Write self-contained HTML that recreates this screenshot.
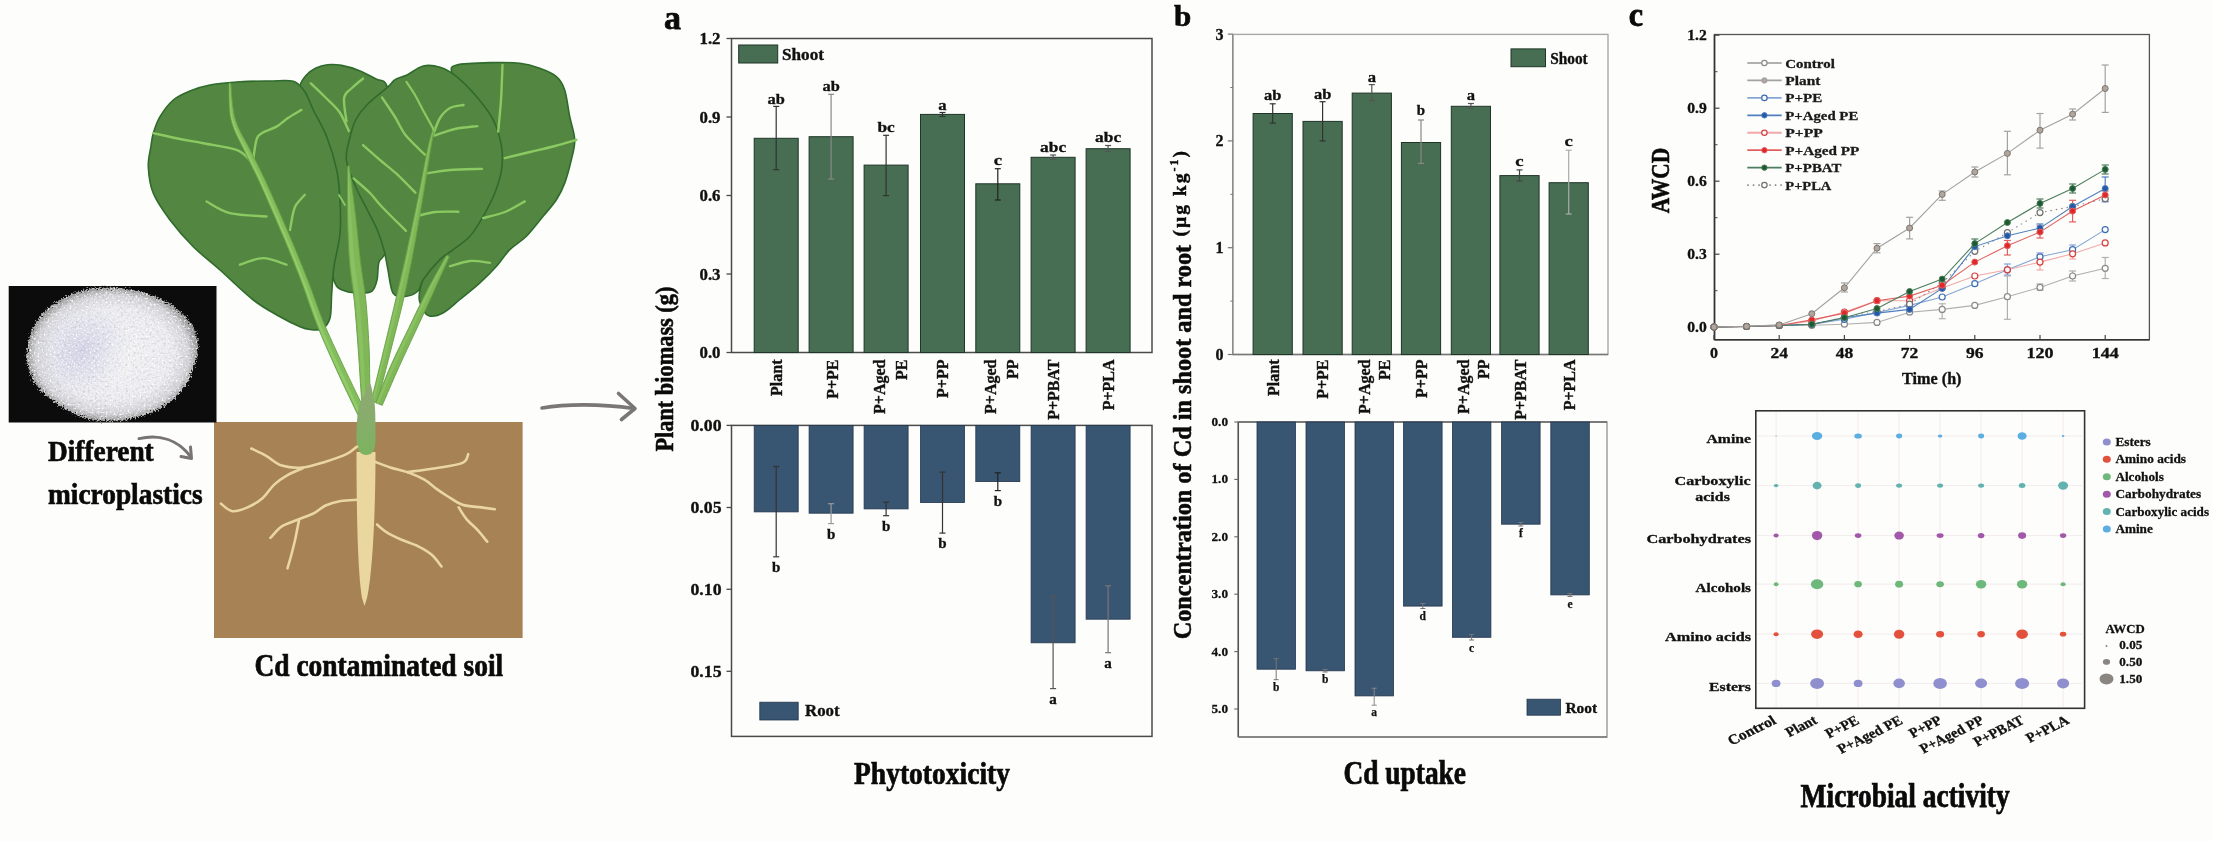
<!DOCTYPE html>
<html><head><meta charset="utf-8"><title>Graphical abstract</title>
<style>
html,body{margin:0;padding:0;background:#fdfdfb;}
body{width:2213px;height:841px;overflow:hidden;font-family:"Liberation Serif",serif;}
svg{display:block;filter:blur(0.45px);}
text{font-family:"Liberation Serif",serif;}
</style></head><body>
<svg width="2213" height="841" viewBox="0 0 2213 841">
<defs>
<linearGradient id="bulbg" x1="0" y1="0" x2="0" y2="1">
<stop offset="0" stop-color="#8ea872"/>
<stop offset="0.5" stop-color="#87ad6c"/>
<stop offset="1" stop-color="#7cb35e"/>
</linearGradient>
<radialGradient id="blobg" cx="0.5" cy="0.5" r="0.5">
<stop offset="0" stop-color="#f4f4f6"/>
<stop offset="0.7" stop-color="#ececf0"/>
<stop offset="0.9" stop-color="#d4d4d8"/>
<stop offset="1" stop-color="#9a9a9a"/>
</radialGradient>
<radialGradient id="lav" cx="0.5" cy="0.5" r="0.5">
<stop offset="0" stop-color="#c0c0e0" stop-opacity="0.6"/>
<stop offset="1" stop-color="#c8c8e4" stop-opacity="0"/>
</radialGradient>
<filter id="rough" x="-10%" y="-10%" width="120%" height="120%">
<feTurbulence type="fractalNoise" baseFrequency="0.6" numOctaves="2" seed="3" result="n"/>
<feDisplacementMap in="SourceGraphic" in2="n" scale="8" xChannelSelector="R" yChannelSelector="G"/>
</filter>
<filter id="darkspeck" x="0" y="0" width="100%" height="100%">
<feTurbulence type="fractalNoise" baseFrequency="0.42" numOctaves="2" seed="11" result="n"/>
<feColorMatrix in="n" type="matrix" values="0 0 0 0 0.35  0 0 0 0 0.35  0 0 0 0 0.38  -3.4 0 0 0 1.7" result="a"/>
<feComposite in="a" in2="SourceAlpha" operator="in"/>
</filter>
<filter id="whitespeck" x="0" y="0" width="100%" height="100%">
<feTurbulence type="fractalNoise" baseFrequency="0.5" numOctaves="1" seed="21" result="n"/>
<feColorMatrix in="n" type="matrix" values="0 0 0 0 1  0 0 0 0 1  0 0 0 0 1  4 0 0 0 -2.2" result="a"/>
<feComposite in="a" in2="SourceAlpha" operator="in"/>
</filter>
<radialGradient id="edgefade" cx="0.5" cy="0.5" r="0.5">
<stop offset="0" stop-color="#000" stop-opacity="0.25"/>
<stop offset="0.75" stop-color="#000" stop-opacity="0.45"/>
<stop offset="1" stop-color="#000" stop-opacity="0.9"/>
</radialGradient>
</defs>
<rect x="0" y="0" width="2213" height="841" fill="#fdfdfb"/>

<path d="M451.6,73.3 C451.37,68.3 449.67,66.78 456.6,65 C463.53,63.22 482.67,62.88 493.2,62.6 C503.73,62.32 512.05,62.35 519.8,63.3 C527.55,64.25 533.6,66.08 539.7,68.3 C545.8,70.52 552.23,73 556.4,76.6 C560.57,80.2 562.48,83.25 564.7,89.9 C566.92,96.55 568.03,108.18 569.7,116.5 C571.37,124.82 574.43,132.58 574.7,139.8 C574.97,147.02 572.97,152.58 571.3,159.8 C569.63,167.02 567.18,176.45 564.7,183.1 C562.22,189.75 560,194.17 556.4,199.7 C552.8,205.23 548.1,210.2 543.1,216.3 C538.1,222.4 531.95,230.75 526.4,236.3 C520.85,241.85 514.78,244.62 509.8,249.6 C504.82,254.58 501.48,260.65 496.5,266.2 C491.52,271.75 486,277.35 479.9,282.9 C473.8,288.45 466,294.52 459.9,299.5 C453.8,304.48 448.28,310.03 443.3,312.8 C438.32,315.57 433.33,316.65 430,316.1 C426.67,315.55 424.97,313.93 423.3,309.5 C421.63,305.07 417.22,302.75 420,289.5 C422.78,276.25 433,253.25 440,230 C447,206.75 459,172.5 462,150 C465,127.5 459.73,107.78 458,95 C456.27,82.22 451.83,78.3 451.6,73.3Z" fill="#538640" stroke="#2f6b2c" stroke-width="1.6" stroke-linejoin="round"/>
<path d="M300,86.2 C300.33,82.45 303.42,78.48 306,75.5 C308.58,72.52 311.95,70.08 315.5,68.3 C319.05,66.52 322.95,65.28 327.3,64.8 C331.65,64.32 336.23,64.42 341.6,65.4 C346.97,66.38 353.75,68.43 359.5,70.7 C365.25,72.97 371.55,76.52 376.1,79 C380.65,81.48 383.98,78.77 386.8,85.6 C389.62,92.43 392.13,100.93 393,120 C393.87,139.07 393.17,178.33 392,200 C390.83,221.67 388.17,239.67 386,250 C383.83,260.33 380.5,257 379,262 C377.5,267 378.17,275.17 377,280 C375.83,284.83 374.83,288.83 372,291 C369.17,293.17 364.5,293 360,293 C355.5,293 349,292.33 345,291 C341,289.67 338.33,289.33 336,285 C333.67,280.67 332.5,279.17 331,265 C329.5,250.83 329.17,222.5 327,200 C324.83,177.5 321.83,147 318,130 C314.17,113 307,105.3 304,98 C301,90.7 299.67,89.95 300,86.2Z" fill="#538640" stroke="#2f6b2c" stroke-width="1.6" stroke-linejoin="round"/>
<path d="M160,116.7 C163.33,111.15 168.3,104.28 173.3,100 C178.3,95.72 183.9,93.5 190,91 C196.1,88.5 201.57,86.55 209.9,85 C218.23,83.45 229.98,82.37 240,81.7 C250.02,81.03 261.12,81.07 270,81 C278.88,80.93 287.47,79.47 293.3,81.3 C299.13,83.13 301.67,87.22 305,92 C308.33,96.78 309.68,102.55 313.3,110 C316.92,117.45 322.8,126.7 326.7,136.7 C330.6,146.7 334.48,159.45 336.7,170 C338.92,180.55 339.45,189.45 340,200 C340.55,210.55 341,222.18 340,233.3 C339,244.42 335.38,256.7 334,266.7 C332.62,276.7 332.37,284.75 331.7,293.3 C331.03,301.85 331.62,312.05 330,318 C328.38,323.95 325.33,327.08 322,329 C318.67,330.92 313.67,329.88 310,329.5 C306.33,329.12 305,328.83 300,326.7 C295,324.57 287.78,321.15 280,316.7 C272.22,312.25 263.3,307.78 253.3,300 C243.3,292.22 230,278.88 220,270 C210,261.12 201.63,255.03 193.3,246.7 C184.97,238.37 176.67,228.9 170,220 C163.33,211.1 156.92,202.18 153.3,193.3 C149.68,184.42 148.68,174.58 148.3,166.7 C147.92,158.82 150.17,151.57 151,146 C151.83,140.43 151.8,138.18 153.3,133.3 C154.8,128.42 156.67,122.25 160,116.7Z" fill="#538640" stroke="#2f6b2c" stroke-width="1.6" stroke-linejoin="round"/>
<path d="M388,86.8 C392.75,82.53 391.93,81.57 395.1,79.6 C398.27,77.63 402.3,77.27 407,75 C411.7,72.73 417.8,67.28 423.3,66 C428.8,64.72 434.45,65.53 440,67.3 C445.55,69.07 450.52,71.72 456.6,76.6 C462.68,81.48 470.4,89.38 476.5,96.6 C482.6,103.82 489.03,111.58 493.2,119.9 C497.37,128.22 500.12,138.18 501.5,146.5 C502.88,154.82 502.62,162.05 501.5,169.8 C500.38,177.55 497.85,185.25 494.8,193 C491.75,200.75 487.35,209.08 483.2,216.3 C479.05,223.52 474.9,230.75 469.9,236.3 C464.9,241.85 458.2,245.72 453.2,249.6 C448.2,253.48 444.88,254.62 439.9,259.6 C434.92,264.58 426.95,274.27 423.3,279.5 C419.65,284.73 421.05,288.17 418,291 C414.95,293.83 409.17,296.17 405,296.5 C400.83,296.83 395.83,297.42 393,293 C390.17,288.58 389.5,277.17 388,270 C386.5,262.83 385.83,256.78 384,250 C382.17,243.22 379.75,235.92 377,229.3 C374.25,222.68 371.07,217.43 367.5,210.3 C363.93,203.17 359.12,194.88 355.6,186.5 C352.08,178.12 347.33,168.2 346.4,160 C345.47,151.8 348.42,144.05 350,137.3 C351.58,130.55 353.13,124.85 355.9,119.5 C358.67,114.15 361.25,110.65 366.6,105.2 C371.95,99.75 383.25,91.07 388,86.8Z" fill="#538640" stroke="#2f6b2c" stroke-width="1.6" stroke-linejoin="round"/>
<path d="M502.5,65 C502.25,70.83 501.72,88.92 501,100 C500.28,111.08 498.67,126.25 498.2,131.5" fill="none" stroke="#8bc962" stroke-width="2.4" stroke-linecap="round" stroke-linejoin="round"/>
<path d="M504.8,158.1 C509,157.08 521.63,154.02 530,152 C538.37,149.98 547.28,148.03 555,146 C562.72,143.97 572.75,140.83 576.3,139.8" fill="none" stroke="#8bc962" stroke-width="2.4" stroke-linecap="round" stroke-linejoin="round"/>
<path d="M483.2,218 C486.83,217 498.07,214.77 505,212 C511.93,209.23 521.5,203.17 524.8,201.4" fill="none" stroke="#8bc962" stroke-width="2.4" stroke-linecap="round" stroke-linejoin="round"/>
<path d="M450,266.2 C453.33,265.33 463.33,261.55 470,261 C476.67,260.45 486.67,262.58 490,262.9" fill="none" stroke="#8bc962" stroke-width="2.4" stroke-linecap="round" stroke-linejoin="round"/>
<path d="M310.8,83.3 C313.17,85.58 320.25,92.25 325,97 C329.75,101.75 335.33,106.15 339.3,111.8 C343.27,117.45 347.22,127.72 348.8,130.9" fill="none" stroke="#8bc962" stroke-width="2.4" stroke-linecap="round" stroke-linejoin="round"/>
<path d="M363.1,78.5 C361.25,80.08 355.17,84.82 352,88 C348.83,91.18 345.02,92.03 344.1,97.6 C343.18,103.17 346.1,117.43 346.5,121.4" fill="none" stroke="#8bc962" stroke-width="2.4" stroke-linecap="round" stroke-linejoin="round"/>
<path d="M339,195 C340,196.67 344,203.33 345,205" fill="none" stroke="#8bc962" stroke-width="1.8" stroke-linecap="round" stroke-linejoin="round"/>
<path d="M153.3,133.2 C157.75,134.17 171.68,137.33 180,139 C188.32,140.67 193.78,141.38 203.2,143.2 C212.62,145.02 228.73,147.12 236.5,149.9 C244.27,152.68 247.58,158.23 249.8,159.9" fill="none" stroke="#8bc962" stroke-width="2.4" stroke-linecap="round" stroke-linejoin="round"/>
<path d="M301.4,109.9 C299.17,111.25 292.15,115.22 288,118 C283.85,120.78 280.83,124.1 276.5,126.6 C272.17,129.1 265.33,130.78 262,133 C258.67,135.22 257.97,135.42 256.5,139.9 C255.03,144.38 253.75,156.57 253.2,159.9" fill="none" stroke="#8bc962" stroke-width="2.4" stroke-linecap="round" stroke-linejoin="round"/>
<path d="M206.6,201.5 C210.48,203.43 219.92,210.6 229.9,213.1 C239.88,215.6 260.4,215.93 266.5,216.5" fill="none" stroke="#8bc962" stroke-width="2.4" stroke-linecap="round" stroke-linejoin="round"/>
<path d="M304.8,194.8 C303.33,196.5 297.95,201.95 296,205 C294.05,208.05 294.1,208.93 293.1,213.1 C292.1,217.27 290.52,227.18 290,230" fill="none" stroke="#8bc962" stroke-width="2.4" stroke-linecap="round" stroke-linejoin="round"/>
<path d="M239.9,264.7 C243.78,263.6 255.43,258.1 263.2,258.1 C270.97,258.1 282.62,263.6 286.5,264.7" fill="none" stroke="#8bc962" stroke-width="2.4" stroke-linecap="round" stroke-linejoin="round"/>
<path d="M382.1,97.6 C384.25,100.83 391.03,110.67 395,117 C398.97,123.33 400.9,129.32 405.9,135.6 C410.9,141.88 421.82,151.52 425,154.7" fill="none" stroke="#8bc962" stroke-width="2.4" stroke-linecap="round" stroke-linejoin="round"/>
<path d="M363.1,145.1 C365.92,147.58 374.45,155.23 380,160 C385.55,164.77 390.5,168.25 396.4,173.7 C402.3,179.15 412.23,189.53 415.4,192.7" fill="none" stroke="#8bc962" stroke-width="2.4" stroke-linecap="round" stroke-linejoin="round"/>
<path d="M353.6,178.4 C356.33,180.83 365.25,188.23 370,193 C374.75,197.77 376.12,200.7 382.1,207 C388.08,213.3 401.93,226.83 405.9,230.8" fill="none" stroke="#8bc962" stroke-width="2.4" stroke-linecap="round" stroke-linejoin="round"/>
<path d="M433,135 C434.17,132.17 437.17,122.5 440,118 C442.83,113.5 446.08,110.17 450,108 C453.92,105.83 461.25,105.5 463.5,105" fill="none" stroke="#8bc962" stroke-width="2.4" stroke-linecap="round" stroke-linejoin="round"/>
<path d="M434.5,135.6 C437.92,134.5 447.87,130.58 455,129 C462.13,127.42 473.58,126.58 477.3,126.1" fill="none" stroke="#8bc962" stroke-width="2.4" stroke-linecap="round" stroke-linejoin="round"/>
<path d="M425,173.7 C429.17,173.08 440.5,170.8 450,170 C459.5,169.2 476.67,169.08 482,168.9" fill="none" stroke="#8bc962" stroke-width="2.4" stroke-linecap="round" stroke-linejoin="round"/>
<path d="M415.4,216.5 C418.67,215.75 427.85,212.8 435,212 C442.15,211.2 454.42,211.75 458.3,211.7" fill="none" stroke="#8bc962" stroke-width="2.4" stroke-linecap="round" stroke-linejoin="round"/>
<path d="M229,83.38 C229.36,89.56 228.42,108.8 231.17,120.44 C233.91,132.07 240.59,142.53 245.47,153.2 C250.35,163.87 254.11,170.38 260.47,184.45 C266.83,198.51 276.73,221.15 283.65,237.61 C290.56,254.06 296.45,268.72 301.97,283.17 C307.49,297.62 311.01,309.91 316.76,324.32 C322.51,338.73 329.54,354.39 336.46,369.63 C343.38,384.88 354.66,408.08 358.3,415.77 L365.7,412.23 C362.01,404.59 350.62,381.46 343.54,366.37 C336.46,351.27 329.16,335.94 323.24,321.68 C317.32,307.42 313.68,295.24 308.03,280.83 C302.38,266.41 296.37,251.67 289.35,235.19 C282.34,218.71 272.4,196.02 265.93,181.95 C259.46,167.89 255.65,161.23 250.53,150.8 C245.41,140.37 238.52,130.63 235.23,119.36 C231.94,108.1 231.54,89.24 230.8,83.22Z" fill="#84be5c" stroke="#64a044" stroke-width="0.9" stroke-linejoin="round"/>
<path d="M229.19,83.32 C229.59,89.45 228.78,108.56 231.56,120.08 C234.34,131.59 240.99,141.82 245.88,152.42 C250.77,163.01 254.55,169.57 260.92,183.63 C267.3,197.7 277.21,220.36 284.14,236.82 C291.07,253.28 296.98,267.97 302.51,282.41 C308.04,296.85 311.57,309.1 317.32,323.46 C323.08,337.82 330.11,353.38 337.04,368.57 C343.97,383.76 355.26,406.94 358.9,414.62 L361.49,413.38 C357.83,405.72 346.51,382.57 339.52,367.43 C332.54,352.29 325.41,336.85 319.6,322.54 C313.78,308.23 310.21,296.02 304.63,281.59 C299.05,267.16 293.1,252.45 286.14,235.98 C279.17,219.51 269.25,196.83 262.84,182.77 C256.42,168.7 252.63,162.09 247.66,151.58 C242.68,141.08 235.96,131.11 232.99,119.72 C230.02,108.34 230.35,89.35 229.82,83.28Z" fill="#98d070" opacity="0.7"/>
<path d="M347.75,166.05 C347.71,174.25 347.21,199.19 347.51,215.27 C347.81,231.35 348.4,248.33 349.53,262.55 C350.66,276.77 352.87,286.61 354.28,300.58 C355.69,314.54 357.01,333.07 358.01,346.34 C359.01,359.62 359.63,370.9 360.25,380.21 C360.88,389.52 361.5,398.53 361.75,402.19 L370.25,401.81 C370.16,398.14 369.95,389.15 369.75,379.79 C369.54,370.43 369.66,359.05 368.99,345.66 C368.32,332.26 367.14,313.46 365.72,299.42 C364.3,285.39 362.18,275.57 360.47,261.45 C358.77,247.34 357.36,230.65 355.49,214.73 C353.62,198.81 350.29,174.08 349.25,165.95Z" fill="#80b858" stroke="#64a044" stroke-width="0.9" stroke-linejoin="round"/>
<path d="M347.91,166.01 C347.98,174.18 347.88,199.04 348.34,215.06 C348.8,231.09 349.48,247.98 350.66,262.17 C351.85,276.36 354.05,286.21 355.47,300.2 C356.88,314.2 358.2,332.82 359.16,346.13 C360.12,359.45 360.67,370.77 361.25,380.09 C361.83,389.42 362.41,398.42 362.64,402.08 L365.62,401.92 C365.44,398.25 365.01,389.25 364.57,379.91 C364.13,370.57 363.85,359.22 363,345.87 C362.15,332.52 360.89,313.8 359.47,299.8 C358.06,285.79 355.89,275.97 354.5,261.83 C353.11,247.68 352.15,230.91 351.14,214.94 C350.13,198.96 348.88,174.15 348.43,165.99Z" fill="#8ec466" opacity="0.7"/>
<path d="M433.27,127.83 C432.31,131.48 429.94,138.59 427.53,149.71 C425.11,160.84 422.24,177.65 418.79,194.59 C415.34,211.53 410.56,234.26 406.82,251.35 C403.08,268.45 399.88,282.02 396.35,297.16 C392.81,312.29 389.02,327.99 385.6,342.16 C382.19,356.33 378.27,372.35 375.85,382.2 C373.43,392.05 371.89,398.06 371.1,401.24 L376.9,402.76 C377.78,399.6 379.57,393.62 382.15,383.8 C384.73,373.98 388.81,358 392.4,343.84 C395.98,329.68 400.19,314.04 403.65,298.84 C407.12,283.64 409.92,269.89 413.18,252.65 C416.44,235.41 420.33,212.47 423.21,195.41 C426.09,178.35 428.55,161.49 430.47,150.29 C432.39,139.08 434.02,131.85 434.73,128.17Z" fill="#80b858" stroke="#64a044" stroke-width="0.9" stroke-linejoin="round"/>
<path d="M433.41,127.94 C432.48,131.6 430.19,138.74 427.83,149.9 C425.46,161.05 422.63,177.87 419.24,194.85 C415.84,211.83 411.15,234.62 407.46,251.77 C403.76,268.91 400.6,282.55 397.07,297.7 C393.54,312.86 389.7,328.54 386.27,342.71 C382.84,356.88 378.9,372.89 376.47,382.72 C374.03,392.56 372.46,398.57 371.66,401.74 L373.7,402.26 C374.53,399.1 376.18,393.1 378.67,383.28 C381.17,373.45 385.16,357.45 388.65,343.29 C392.14,329.13 396.12,313.47 399.63,298.3 C403.13,283.12 406.16,269.43 409.68,252.23 C413.21,235.04 417.59,212.17 420.78,195.15 C423.98,178.13 426.66,161.29 428.85,150.1 C431.04,138.92 433.08,131.74 433.93,128.06Z" fill="#8ec466" opacity="0.7"/>
<path d="M434,130 C432.33,127 427.17,117.83 424,112 C420.83,106.17 417.92,100 415,95 C412.08,90 407.92,84.17 406.5,82" fill="none" stroke="#8bc962" stroke-width="2.2" stroke-linecap="round" stroke-linejoin="round"/>
<path d="M446.66,255.33 C443.39,261.2 433.42,278.4 427.08,290.58 C420.74,302.76 414.57,316.1 408.61,328.4 C402.65,340.7 396.82,352 391.35,364.37 C385.87,376.75 378.37,396.26 375.77,402.64 L382.23,405.36 C384.96,399.07 393.13,379.92 398.65,367.63 C404.18,355.34 409.68,343.97 415.39,331.6 C421.1,319.24 427.26,305.91 432.92,293.42 C438.58,280.93 446.61,262.8 449.34,256.67Z" fill="#80b858" stroke="#64a044" stroke-width="0.9" stroke-linejoin="round"/>
<path d="M446.87,255.76 C443.65,261.71 433.84,279.21 427.55,291.49 C421.27,303.77 415.1,317.11 409.17,329.43 C403.23,341.76 397.43,353.08 391.96,365.43 C386.49,377.78 378.93,397.18 376.33,403.53 L378.59,404.47 C381.25,398.15 389.03,378.89 394.52,366.57 C400.01,354.25 405.69,342.91 411.53,330.57 C417.38,318.22 423.54,304.9 429.59,292.51 C435.63,280.12 444.77,262.29 447.81,256.24Z" fill="#8ec466" opacity="0.7"/>
<rect x="214" y="422" width="308.6" height="216" fill="#a68254" stroke="none" stroke-width="0" />
<path d="M356.5,452 C356.5,520 358,575 362,598 L364.5,606 L367,598 C372,575 375.5,520 375.5,452 Z" fill="#e9d79f"/>
<path d="M368.5,384 C366,392 362,398 359.5,405 C357,412 356.5,428 356.5,440 C357,452 362,455 366,455 C371,455 375.5,452 375.5,440 C375.5,425 375.5,410 374.5,403 C373,395 372,388 370.5,384 Z" fill="url(#bulbg)"/>
<path d="M357,446.6 C355.23,447.87 351.65,451.67 346.4,454.2 C341.15,456.73 332.78,459.58 325.5,461.8 C318.22,464.02 309.98,466.87 302.7,467.5 C295.42,468.13 287.82,467.5 281.8,465.6 C275.78,463.7 271.68,458.95 266.6,456.1 C261.52,453.25 253.85,449.77 251.3,448.5" fill="none" stroke="#ead6a0" stroke-width="2.6" stroke-linecap="round" stroke-linejoin="round"/>
<path d="M302.7,468.2 C300.17,469.35 292.25,472.37 287.5,475.1 C282.75,477.83 278.32,480.8 274.2,484.6 C270.08,488.4 267.25,494.1 262.8,497.9 C258.35,501.7 252.58,505.18 247.5,507.4 C242.42,509.62 236.73,511.83 232.3,511.2 C227.87,510.57 222.8,504.87 220.9,503.6" fill="none" stroke="#ead6a0" stroke-width="2.6" stroke-linecap="round" stroke-linejoin="round"/>
<path d="M357,499.8 C354.28,500 345.95,500.05 340.7,501 C335.45,501.95 329.93,503.48 325.5,505.5 C321.07,507.52 318.85,510.68 314.1,513.1 C309.35,515.52 302.38,517.78 297,520 C291.62,522.22 286.23,523.42 281.8,526.4 C277.37,529.38 272.3,535.98 270.4,537.9" fill="none" stroke="#ead6a0" stroke-width="2.6" stroke-linecap="round" stroke-linejoin="round"/>
<path d="M298.9,520.7 C298.27,523.88 296.37,534.08 295.1,539.8 C293.83,545.52 292.57,550.25 291.3,555 C290.03,559.75 288.13,566.08 287.5,568.3" fill="none" stroke="#ead6a0" stroke-width="2.6" stroke-linecap="round" stroke-linejoin="round"/>
<path d="M375,461.8 C377.53,462.75 384.82,465.78 390.2,467.5 C395.58,469.22 401.6,470.07 407.3,472.1 C413,474.13 419.65,476.98 424.4,479.7 C429.15,482.42 432,485.68 435.8,488.4 C439.6,491.12 442.75,493.27 447.2,496 C451.65,498.73 456.78,502.9 462.5,504.8 C468.22,506.7 476.12,506.65 481.5,507.4 C486.88,508.15 492.58,508.98 494.8,509.3" fill="none" stroke="#ead6a0" stroke-width="2.6" stroke-linecap="round" stroke-linejoin="round"/>
<path d="M407.3,472.1 C412.05,471.45 426.6,469.73 435.8,468.2 C445,466.67 457.1,465.23 462.5,462.9 C467.9,460.57 467.25,455.65 468.2,454.2" fill="none" stroke="#ead6a0" stroke-width="2.6" stroke-linecap="round" stroke-linejoin="round"/>
<path d="M458.7,507.4 C459.97,509.3 463.13,515 466.3,518.8 C469.47,522.6 474.22,526.38 477.7,530.2 C481.18,534.02 485.62,539.78 487.2,541.7" fill="none" stroke="#ead6a0" stroke-width="2.6" stroke-linecap="round" stroke-linejoin="round"/>
<path d="M377,524.5 C378.57,525.77 382.3,529.55 386.4,532.1 C390.5,534.65 396.22,537.38 401.6,539.8 C406.98,542.22 413.63,544.07 418.7,546.6 C423.77,549.13 428.2,551.7 432,555 C435.8,558.3 439.92,564.5 441.5,566.4" fill="none" stroke="#ead6a0" stroke-width="2.6" stroke-linecap="round" stroke-linejoin="round"/>
<rect x="8.7" y="286" width="207.8" height="136.5" fill="#0c0c0c" stroke="none" stroke-width="0" />
<g filter="url(#rough)"><path d="M97.8,288 C120,286 148,292 165.6,301.4 C182,310 197,326 197.7,342 C198,355 196,362 194.1,365.6 C188,385 178,398 165.6,404.9 C148,416 125,421 104.9,421 C85,420 70,413 58.5,404.9 C45,395 33,385 30,372.8 C26,362 26,352 28.2,342.5 C31,330 36,320 44.3,312.1 C52,304 60,299 67.5,296 C78,291 88,288.5 97.8,288 Z" fill="url(#blobg)"/><ellipse cx="82" cy="350" rx="52" ry="44" fill="url(#lav)" transform="rotate(-30 82 350)"/></g>
<path d="M97.8,288 C120,286 148,292 165.6,301.4 C182,310 197,326 197.7,342 C198,355 196,362 194.1,365.6 C188,385 178,398 165.6,404.9 C148,416 125,421 104.9,421 C85,420 70,413 58.5,404.9 C45,395 33,385 30,372.8 C26,362 26,352 28.2,342.5 C31,330 36,320 44.3,312.1 C52,304 60,299 67.5,296 C78,291 88,288.5 97.8,288 Z" fill="#000" opacity="0.3" filter="url(#darkspeck)"/>
<path d="M97.8,288 C120,286 148,292 165.6,301.4 C182,310 197,326 197.7,342 C198,355 196,362 194.1,365.6 C188,385 178,398 165.6,404.9 C148,416 125,421 104.9,421 C85,420 70,413 58.5,404.9 C45,395 33,385 30,372.8 C26,362 26,352 28.2,342.5 C31,330 36,320 44.3,312.1 C52,304 60,299 67.5,296 C78,291 88,288.5 97.8,288 Z" fill="#fff" filter="url(#whitespeck)"/>
<text transform="translate(48,460.8)" font-size="30" text-anchor="start" fill="#0a0a0a" font-weight="bold" stroke="#0a0a0a" stroke-width="0.66" textLength="105.7" lengthAdjust="spacingAndGlyphs" >Different</text>
<text transform="translate(48,503.5)" font-size="30" text-anchor="start" fill="#0a0a0a" font-weight="bold" stroke="#0a0a0a" stroke-width="0.66" textLength="154.6" lengthAdjust="spacingAndGlyphs" >microplastics</text>
<text transform="translate(254.4,675.5)" font-size="32" text-anchor="start" fill="#0a0a0a" font-weight="bold" stroke="#0a0a0a" stroke-width="0.7" textLength="248.8" lengthAdjust="spacingAndGlyphs" >Cd contaminated soil</text>
<path d="M139,438.6 C160,434 178,440 190,456" fill="none" stroke="#777472" stroke-width="3" stroke-linecap="round"/>
<path d="M181,456.5 L191.5,458.5 L190.5,447" fill="none" stroke="#777472" stroke-width="3" stroke-linecap="round" stroke-linejoin="round"/>
<path d="M542,408 C565,404 600,403.5 634,408.5" fill="none" stroke="#7a7674" stroke-width="3.6" stroke-linecap="round"/>
<path d="M618.5,393.5 L635,408.5 L621.5,419.5" fill="none" stroke="#7a7674" stroke-width="3.6" stroke-linecap="round" stroke-linejoin="round"/>
<text transform="translate(664,29)" font-size="34" text-anchor="start" fill="#0a0a0a" font-weight="bold" stroke="#0a0a0a" stroke-width="0.75" >a</text>
<rect x="731.5" y="38.5" width="420.5" height="314" fill="none" stroke="#4a4a4a" stroke-width="1.5"/>
<line x1="726.5" y1="352.5" x2="731.5" y2="352.5" stroke="#4a4a4a" stroke-width="1.3" />
<text transform="translate(720.5,358)" font-size="16" text-anchor="end" fill="#111" font-weight="bold" stroke="#111" stroke-width="0.35" textLength="21" lengthAdjust="spacingAndGlyphs" >0.0</text>
<line x1="726.5" y1="274" x2="731.5" y2="274" stroke="#4a4a4a" stroke-width="1.3" />
<text transform="translate(720.5,279.5)" font-size="16" text-anchor="end" fill="#111" font-weight="bold" stroke="#111" stroke-width="0.35" textLength="21" lengthAdjust="spacingAndGlyphs" >0.3</text>
<line x1="726.5" y1="195.5" x2="731.5" y2="195.5" stroke="#4a4a4a" stroke-width="1.3" />
<text transform="translate(720.5,201)" font-size="16" text-anchor="end" fill="#111" font-weight="bold" stroke="#111" stroke-width="0.35" textLength="21" lengthAdjust="spacingAndGlyphs" >0.6</text>
<line x1="726.5" y1="117" x2="731.5" y2="117" stroke="#4a4a4a" stroke-width="1.3" />
<text transform="translate(720.5,122.5)" font-size="16" text-anchor="end" fill="#111" font-weight="bold" stroke="#111" stroke-width="0.35" textLength="21" lengthAdjust="spacingAndGlyphs" >0.9</text>
<line x1="726.5" y1="38.5" x2="731.5" y2="38.5" stroke="#4a4a4a" stroke-width="1.3" />
<text transform="translate(720.5,44)" font-size="16" text-anchor="end" fill="#111" font-weight="bold" stroke="#111" stroke-width="0.35" textLength="21" lengthAdjust="spacingAndGlyphs" >1.2</text>
<rect x="754.2" y="138.3" width="44" height="214.2" fill="#476e53" stroke="#1e3527" stroke-width="1" />
<line x1="776.2" y1="106.4" x2="776.2" y2="169.7" stroke="#333" stroke-width="1.2" />
<line x1="773.2" y1="106.4" x2="779.2" y2="106.4" stroke="#333" stroke-width="1.2" />
<line x1="773.2" y1="169.7" x2="779.2" y2="169.7" stroke="#333" stroke-width="1.2" />
<text transform="translate(776.2,103.7)" font-size="15" text-anchor="middle" fill="#111" font-weight="bold" stroke="#111" stroke-width="0.33" textLength="17.3" lengthAdjust="spacingAndGlyphs" >ab</text>
<rect x="809.1" y="136.7" width="44" height="215.8" fill="#476e53" stroke="#1e3527" stroke-width="1" />
<line x1="831.1" y1="94.3" x2="831.1" y2="179" stroke="#888" stroke-width="1.2" />
<line x1="828.1" y1="94.3" x2="834.1" y2="94.3" stroke="#888" stroke-width="1.2" />
<line x1="828.1" y1="179" x2="834.1" y2="179" stroke="#888" stroke-width="1.2" />
<text transform="translate(831.1,91.3)" font-size="15" text-anchor="middle" fill="#111" font-weight="bold" stroke="#111" stroke-width="0.33" textLength="17.3" lengthAdjust="spacingAndGlyphs" >ab</text>
<rect x="864.1" y="165.1" width="44" height="187.4" fill="#476e53" stroke="#1e3527" stroke-width="1" />
<line x1="886.1" y1="135.3" x2="886.1" y2="195.6" stroke="#333" stroke-width="1.2" />
<line x1="883.1" y1="135.3" x2="889.1" y2="135.3" stroke="#333" stroke-width="1.2" />
<line x1="883.1" y1="195.6" x2="889.1" y2="195.6" stroke="#333" stroke-width="1.2" />
<text transform="translate(886.1,131.6)" font-size="15" text-anchor="middle" fill="#111" font-weight="bold" stroke="#111" stroke-width="0.33" textLength="17.3" lengthAdjust="spacingAndGlyphs" >bc</text>
<rect x="920.5" y="114.4" width="44" height="238.1" fill="#476e53" stroke="#1e3527" stroke-width="1" />
<line x1="942.5" y1="112.5" x2="942.5" y2="116.5" stroke="#333" stroke-width="1.2" />
<line x1="939.5" y1="112.5" x2="945.5" y2="112.5" stroke="#333" stroke-width="1.2" />
<line x1="939.5" y1="116.5" x2="945.5" y2="116.5" stroke="#333" stroke-width="1.2" />
<text transform="translate(942.5,110.3)" font-size="15" text-anchor="middle" fill="#111" font-weight="bold" stroke="#111" stroke-width="0.33" textLength="8.3" lengthAdjust="spacingAndGlyphs" >a</text>
<rect x="975.8" y="183.8" width="44" height="168.7" fill="#476e53" stroke="#1e3527" stroke-width="1" />
<line x1="997.8" y1="168.7" x2="997.8" y2="200" stroke="#222" stroke-width="1.2" />
<line x1="994.8" y1="168.7" x2="1000.8" y2="168.7" stroke="#222" stroke-width="1.2" />
<line x1="994.8" y1="200" x2="1000.8" y2="200" stroke="#222" stroke-width="1.2" />
<text transform="translate(997.8,164.8)" font-size="15" text-anchor="middle" fill="#111" font-weight="bold" stroke="#111" stroke-width="0.33" textLength="8.3" lengthAdjust="spacingAndGlyphs" >c</text>
<rect x="1031.1" y="157.3" width="44" height="195.2" fill="#476e53" stroke="#1e3527" stroke-width="1" />
<line x1="1053.1" y1="155" x2="1053.1" y2="159.5" stroke="#555" stroke-width="1.2" />
<line x1="1050.1" y1="155" x2="1056.1" y2="155" stroke="#555" stroke-width="1.2" />
<line x1="1050.1" y1="159.5" x2="1056.1" y2="159.5" stroke="#555" stroke-width="1.2" />
<text transform="translate(1053.1,152.3)" font-size="15" text-anchor="middle" fill="#111" font-weight="bold" stroke="#111" stroke-width="0.33" textLength="26" lengthAdjust="spacingAndGlyphs" >abc</text>
<rect x="1086.1" y="148.7" width="44" height="203.8" fill="#476e53" stroke="#1e3527" stroke-width="1" />
<line x1="1108.1" y1="145.5" x2="1108.1" y2="151.5" stroke="#555" stroke-width="1.2" />
<line x1="1105.1" y1="145.5" x2="1111.1" y2="145.5" stroke="#555" stroke-width="1.2" />
<line x1="1105.1" y1="151.5" x2="1111.1" y2="151.5" stroke="#555" stroke-width="1.2" />
<text transform="translate(1108.1,142.3)" font-size="15" text-anchor="middle" fill="#111" font-weight="bold" stroke="#111" stroke-width="0.33" textLength="26" lengthAdjust="spacingAndGlyphs" >abc</text>
<rect x="738.7" y="45" width="39" height="18" fill="#476e53" stroke="#1e3527" stroke-width="1" />
<text transform="translate(782,60)" font-size="16" text-anchor="start" fill="#111" font-weight="bold" stroke="#111" stroke-width="0.35" textLength="42" lengthAdjust="spacingAndGlyphs" >Shoot</text>
<text transform="translate(782.4,359.5) scale(1.1,1) rotate(-90)" font-size="16" text-anchor="end" fill="#111" font-weight="bold" stroke="#111" stroke-width="0.35" >Plant</text>
<text transform="translate(837.7,359.5) scale(1.1,1) rotate(-90)" font-size="16" text-anchor="end" fill="#111" font-weight="bold" stroke="#111" stroke-width="0.35" >P+PE</text>
<text transform="translate(885.3,359.5) scale(1.1,1) rotate(-90)" font-size="16" text-anchor="end" fill="#111" font-weight="bold" stroke="#111" stroke-width="0.35" >P+Aged</text>
<text transform="translate(907,359.5) scale(1.1,1) rotate(-90)" font-size="16" text-anchor="end" fill="#111" font-weight="bold" stroke="#111" stroke-width="0.35" >PE</text>
<text transform="translate(948.3,359.5) scale(1.1,1) rotate(-90)" font-size="16" text-anchor="end" fill="#111" font-weight="bold" stroke="#111" stroke-width="0.35" >P+PP</text>
<text transform="translate(995.9,359.5) scale(1.1,1) rotate(-90)" font-size="16" text-anchor="end" fill="#111" font-weight="bold" stroke="#111" stroke-width="0.35" >P+Aged</text>
<text transform="translate(1017.6,359.5) scale(1.1,1) rotate(-90)" font-size="16" text-anchor="end" fill="#111" font-weight="bold" stroke="#111" stroke-width="0.35" >PP</text>
<text transform="translate(1058.9,359.5) scale(1.1,1) rotate(-90)" font-size="16" text-anchor="end" fill="#111" font-weight="bold" stroke="#111" stroke-width="0.35" >P+PBAT</text>
<text transform="translate(1114.2,359.5) scale(1.1,1) rotate(-90)" font-size="16" text-anchor="end" fill="#111" font-weight="bold" stroke="#111" stroke-width="0.35" >P+PLA</text>
<rect x="731.5" y="425.4" width="420.5" height="311" fill="none" stroke="#4a4a4a" stroke-width="1.5"/>
<line x1="726.5" y1="425.4" x2="731.5" y2="425.4" stroke="#4a4a4a" stroke-width="1.3" />
<text transform="translate(721.5,430.9)" font-size="16" text-anchor="end" fill="#111" font-weight="bold" stroke="#111" stroke-width="0.35" textLength="31" lengthAdjust="spacingAndGlyphs" >0.00</text>
<line x1="726.5" y1="507.5" x2="731.5" y2="507.5" stroke="#4a4a4a" stroke-width="1.3" />
<text transform="translate(721.5,513)" font-size="16" text-anchor="end" fill="#111" font-weight="bold" stroke="#111" stroke-width="0.35" textLength="31" lengthAdjust="spacingAndGlyphs" >0.05</text>
<line x1="726.5" y1="589.3" x2="731.5" y2="589.3" stroke="#4a4a4a" stroke-width="1.3" />
<text transform="translate(721.5,594.8)" font-size="16" text-anchor="end" fill="#111" font-weight="bold" stroke="#111" stroke-width="0.35" textLength="31" lengthAdjust="spacingAndGlyphs" >0.10</text>
<line x1="726.5" y1="671.3" x2="731.5" y2="671.3" stroke="#4a4a4a" stroke-width="1.3" />
<text transform="translate(721.5,676.8)" font-size="16" text-anchor="end" fill="#111" font-weight="bold" stroke="#111" stroke-width="0.35" textLength="31" lengthAdjust="spacingAndGlyphs" >0.15</text>
<rect x="754.2" y="425.4" width="44" height="86.5" fill="#385572" stroke="#24364d" stroke-width="0.8" />
<line x1="776.2" y1="466.5" x2="776.2" y2="556.8" stroke="#333" stroke-width="1.2" />
<line x1="773.2" y1="466.5" x2="779.2" y2="466.5" stroke="#333" stroke-width="1.2" />
<line x1="773.2" y1="556.8" x2="779.2" y2="556.8" stroke="#333" stroke-width="1.2" />
<text transform="translate(776.2,571.5)" font-size="15" text-anchor="middle" fill="#111" font-weight="bold" stroke="#111" stroke-width="0.33" >b</text>
<rect x="809.1" y="425.4" width="44" height="87.8" fill="#385572" stroke="#24364d" stroke-width="0.8" />
<line x1="831.1" y1="503.7" x2="831.1" y2="523.6" stroke="#999" stroke-width="1.2" />
<line x1="828.1" y1="503.7" x2="834.1" y2="503.7" stroke="#999" stroke-width="1.2" />
<line x1="828.1" y1="523.6" x2="834.1" y2="523.6" stroke="#999" stroke-width="1.2" />
<text transform="translate(831.1,538.8)" font-size="15" text-anchor="middle" fill="#111" font-weight="bold" stroke="#111" stroke-width="0.33" >b</text>
<rect x="864.1" y="425.4" width="44" height="83.5" fill="#385572" stroke="#24364d" stroke-width="0.8" />
<line x1="886.1" y1="502.2" x2="886.1" y2="515.7" stroke="#333" stroke-width="1.2" />
<line x1="883.1" y1="502.2" x2="889.1" y2="502.2" stroke="#333" stroke-width="1.2" />
<line x1="883.1" y1="515.7" x2="889.1" y2="515.7" stroke="#333" stroke-width="1.2" />
<text transform="translate(886.1,530.9)" font-size="15" text-anchor="middle" fill="#111" font-weight="bold" stroke="#111" stroke-width="0.33" >b</text>
<rect x="920.5" y="425.4" width="44" height="77.2" fill="#385572" stroke="#24364d" stroke-width="0.8" />
<line x1="942.5" y1="472.1" x2="942.5" y2="533.1" stroke="#333" stroke-width="1.2" />
<line x1="939.5" y1="472.1" x2="945.5" y2="472.1" stroke="#333" stroke-width="1.2" />
<line x1="939.5" y1="533.1" x2="945.5" y2="533.1" stroke="#333" stroke-width="1.2" />
<text transform="translate(942.5,547.8)" font-size="15" text-anchor="middle" fill="#111" font-weight="bold" stroke="#111" stroke-width="0.33" >b</text>
<rect x="975.8" y="425.4" width="44" height="56.2" fill="#385572" stroke="#24364d" stroke-width="0.8" />
<line x1="997.8" y1="472.8" x2="997.8" y2="490.6" stroke="#222" stroke-width="1.2" />
<line x1="994.8" y1="472.8" x2="1000.8" y2="472.8" stroke="#222" stroke-width="1.2" />
<line x1="994.8" y1="490.6" x2="1000.8" y2="490.6" stroke="#222" stroke-width="1.2" />
<text transform="translate(997.8,506)" font-size="15" text-anchor="middle" fill="#111" font-weight="bold" stroke="#111" stroke-width="0.33" >b</text>
<rect x="1031.1" y="425.4" width="44" height="217.4" fill="#385572" stroke="#24364d" stroke-width="0.8" />
<line x1="1053.1" y1="596.2" x2="1053.1" y2="688.6" stroke="#555" stroke-width="1.2" />
<line x1="1050.1" y1="596.2" x2="1056.1" y2="596.2" stroke="#555" stroke-width="1.2" />
<line x1="1050.1" y1="688.6" x2="1056.1" y2="688.6" stroke="#555" stroke-width="1.2" />
<text transform="translate(1053.1,704.2)" font-size="15" text-anchor="middle" fill="#111" font-weight="bold" stroke="#111" stroke-width="0.33" >a</text>
<rect x="1086.1" y="425.4" width="44" height="193.8" fill="#385572" stroke="#24364d" stroke-width="0.8" />
<line x1="1108.1" y1="585.8" x2="1108.1" y2="652.7" stroke="#777" stroke-width="1.2" />
<line x1="1105.1" y1="585.8" x2="1111.1" y2="585.8" stroke="#777" stroke-width="1.2" />
<line x1="1105.1" y1="652.7" x2="1111.1" y2="652.7" stroke="#777" stroke-width="1.2" />
<text transform="translate(1108.1,667.6)" font-size="15" text-anchor="middle" fill="#111" font-weight="bold" stroke="#111" stroke-width="0.33" >a</text>
<rect x="759.8" y="702.2" width="38.4" height="17.8" fill="#385572" stroke="#24364d" stroke-width="0.8" />
<text transform="translate(805,716)" font-size="16" text-anchor="start" fill="#111" font-weight="bold" stroke="#111" stroke-width="0.35" textLength="34.6" lengthAdjust="spacingAndGlyphs" >Root</text>
<text transform="translate(672.5,451.6) scale(1.15,1) rotate(-90)" font-size="22" text-anchor="start" fill="#0a0a0a" font-weight="bold" stroke="#0a0a0a" stroke-width="0.48" textLength="165" lengthAdjust="spacingAndGlyphs" >Plant biomass (g)</text>
<text transform="translate(854,784)" font-size="31.6" text-anchor="start" fill="#0a0a0a" font-weight="bold" stroke="#0a0a0a" stroke-width="0.7" textLength="156" lengthAdjust="spacingAndGlyphs" >Phytotoxicity</text>
<text transform="translate(1174,25.8) scale(1.05,1)" font-size="29.5" text-anchor="start" fill="#0a0a0a" font-weight="bold" stroke="#0a0a0a" stroke-width="0.65" >b</text>
<rect x="1232.8" y="34.4" width="375.2" height="320.1" fill="none" stroke="#a8a8a8" stroke-width="1.4"/>
<line x1="1232.8" y1="34.4" x2="1232.8" y2="354.5" stroke="#8a8a8a" stroke-width="1.4" />
<line x1="1232.8" y1="354.5" x2="1608" y2="354.5" stroke="#777" stroke-width="1.6" />
<line x1="1227.8" y1="354.5" x2="1232.8" y2="354.5" stroke="#777" stroke-width="1.2" />
<text transform="translate(1223.6,360)" font-size="16" text-anchor="end" fill="#111" font-weight="bold" stroke="#111" stroke-width="0.35" >0</text>
<line x1="1227.8" y1="247.7" x2="1232.8" y2="247.7" stroke="#777" stroke-width="1.2" />
<text transform="translate(1223.6,253.2)" font-size="16" text-anchor="end" fill="#111" font-weight="bold" stroke="#111" stroke-width="0.35" >1</text>
<line x1="1227.8" y1="140.9" x2="1232.8" y2="140.9" stroke="#777" stroke-width="1.2" />
<text transform="translate(1223.6,146.4)" font-size="16" text-anchor="end" fill="#111" font-weight="bold" stroke="#111" stroke-width="0.35" >2</text>
<line x1="1227.8" y1="34.1" x2="1232.8" y2="34.1" stroke="#777" stroke-width="1.2" />
<text transform="translate(1223.6,39.6)" font-size="16" text-anchor="end" fill="#111" font-weight="bold" stroke="#111" stroke-width="0.35" >3</text>
<line x1="1230.3" y1="301.1" x2="1232.8" y2="301.1" stroke="#777" stroke-width="1" />
<line x1="1230.3" y1="194.3" x2="1232.8" y2="194.3" stroke="#777" stroke-width="1" />
<line x1="1230.3" y1="87.5" x2="1232.8" y2="87.5" stroke="#777" stroke-width="1" />
<rect x="1253.1" y="113.5" width="39.2" height="241" fill="#476e53" stroke="#1e3527" stroke-width="1" />
<line x1="1272.7" y1="103.8" x2="1272.7" y2="123.1" stroke="#333" stroke-width="1.2" />
<line x1="1269.7" y1="103.8" x2="1275.7" y2="103.8" stroke="#333" stroke-width="1.2" />
<line x1="1269.7" y1="123.1" x2="1275.7" y2="123.1" stroke="#333" stroke-width="1.2" />
<text transform="translate(1272.7,100.2)" font-size="15" text-anchor="middle" fill="#111" font-weight="bold" stroke="#111" stroke-width="0.33" textLength="17.3" lengthAdjust="spacingAndGlyphs" >ab</text>
<rect x="1303" y="121.4" width="39.2" height="233.1" fill="#476e53" stroke="#1e3527" stroke-width="1" />
<line x1="1322.6" y1="101.7" x2="1322.6" y2="140.9" stroke="#333" stroke-width="1.2" />
<line x1="1319.6" y1="101.7" x2="1325.6" y2="101.7" stroke="#333" stroke-width="1.2" />
<line x1="1319.6" y1="140.9" x2="1325.6" y2="140.9" stroke="#333" stroke-width="1.2" />
<text transform="translate(1322.6,98.9)" font-size="15" text-anchor="middle" fill="#111" font-weight="bold" stroke="#111" stroke-width="0.33" textLength="17.3" lengthAdjust="spacingAndGlyphs" >ab</text>
<rect x="1352.2" y="93.1" width="39.2" height="261.4" fill="#476e53" stroke="#1e3527" stroke-width="1" />
<line x1="1371.8" y1="84.6" x2="1371.8" y2="100.6" stroke="#555" stroke-width="1.2" />
<line x1="1368.8" y1="84.6" x2="1374.8" y2="84.6" stroke="#555" stroke-width="1.2" />
<line x1="1368.8" y1="100.6" x2="1374.8" y2="100.6" stroke="#555" stroke-width="1.2" />
<text transform="translate(1371.8,82)" font-size="15" text-anchor="middle" fill="#111" font-weight="bold" stroke="#111" stroke-width="0.33" textLength="8.3" lengthAdjust="spacingAndGlyphs" >a</text>
<rect x="1401.4" y="142.5" width="39.2" height="212" fill="#476e53" stroke="#1e3527" stroke-width="1" />
<line x1="1421" y1="120" x2="1421" y2="163.4" stroke="#888" stroke-width="1.2" />
<line x1="1418" y1="120" x2="1424" y2="120" stroke="#888" stroke-width="1.2" />
<line x1="1418" y1="163.4" x2="1424" y2="163.4" stroke="#888" stroke-width="1.2" />
<text transform="translate(1421,115.3)" font-size="15" text-anchor="middle" fill="#111" font-weight="bold" stroke="#111" stroke-width="0.33" textLength="8.3" lengthAdjust="spacingAndGlyphs" >b</text>
<rect x="1451.3" y="106.3" width="39.2" height="248.2" fill="#476e53" stroke="#1e3527" stroke-width="1" />
<line x1="1470.9" y1="103.5" x2="1470.9" y2="108.2" stroke="#555" stroke-width="1.2" />
<line x1="1467.9" y1="103.5" x2="1473.9" y2="103.5" stroke="#555" stroke-width="1.2" />
<line x1="1467.9" y1="108.2" x2="1473.9" y2="108.2" stroke="#555" stroke-width="1.2" />
<text transform="translate(1470.9,100.3)" font-size="15" text-anchor="middle" fill="#111" font-weight="bold" stroke="#111" stroke-width="0.33" textLength="8.3" lengthAdjust="spacingAndGlyphs" >a</text>
<rect x="1499.9" y="175.6" width="39.2" height="178.9" fill="#476e53" stroke="#1e3527" stroke-width="1" />
<line x1="1519.5" y1="169.9" x2="1519.5" y2="181" stroke="#444" stroke-width="1.2" />
<line x1="1516.5" y1="169.9" x2="1522.5" y2="169.9" stroke="#444" stroke-width="1.2" />
<line x1="1516.5" y1="181" x2="1522.5" y2="181" stroke="#444" stroke-width="1.2" />
<text transform="translate(1519.5,166.2)" font-size="15" text-anchor="middle" fill="#111" font-weight="bold" stroke="#111" stroke-width="0.33" textLength="8.3" lengthAdjust="spacingAndGlyphs" >c</text>
<rect x="1549.1" y="182.7" width="39.2" height="171.8" fill="#476e53" stroke="#1e3527" stroke-width="1" />
<line x1="1568.7" y1="150.2" x2="1568.7" y2="214" stroke="#aaa" stroke-width="1.2" />
<line x1="1565.7" y1="150.2" x2="1571.7" y2="150.2" stroke="#aaa" stroke-width="1.2" />
<line x1="1565.7" y1="214" x2="1571.7" y2="214" stroke="#aaa" stroke-width="1.2" />
<text transform="translate(1568.7,146.3)" font-size="15" text-anchor="middle" fill="#111" font-weight="bold" stroke="#111" stroke-width="0.33" textLength="8.3" lengthAdjust="spacingAndGlyphs" >c</text>
<rect x="1511" y="48.9" width="34.5" height="17.8" fill="#476e53" stroke="#1e3527" stroke-width="1" />
<text transform="translate(1550.2,63.9)" font-size="16" text-anchor="start" fill="#111" font-weight="bold" stroke="#111" stroke-width="0.35" textLength="37.5" lengthAdjust="spacingAndGlyphs" >Shoot</text>
<text transform="translate(1278.9,359.5) scale(1.1,1) rotate(-90)" font-size="16" text-anchor="end" fill="#111" font-weight="bold" stroke="#111" stroke-width="0.35" >Plant</text>
<text transform="translate(1328.3,359.5) scale(1.1,1) rotate(-90)" font-size="16" text-anchor="end" fill="#111" font-weight="bold" stroke="#111" stroke-width="0.35" >P+PE</text>
<text transform="translate(1370,359.5) scale(1.1,1) rotate(-90)" font-size="16" text-anchor="end" fill="#111" font-weight="bold" stroke="#111" stroke-width="0.35" >P+Aged</text>
<text transform="translate(1390,359.5) scale(1.1,1) rotate(-90)" font-size="16" text-anchor="end" fill="#111" font-weight="bold" stroke="#111" stroke-width="0.35" >PE</text>
<text transform="translate(1427.1,359.5) scale(1.1,1) rotate(-90)" font-size="16" text-anchor="end" fill="#111" font-weight="bold" stroke="#111" stroke-width="0.35" >P+PP</text>
<text transform="translate(1468.8,359.5) scale(1.1,1) rotate(-90)" font-size="16" text-anchor="end" fill="#111" font-weight="bold" stroke="#111" stroke-width="0.35" >P+Aged</text>
<text transform="translate(1488.8,359.5) scale(1.1,1) rotate(-90)" font-size="16" text-anchor="end" fill="#111" font-weight="bold" stroke="#111" stroke-width="0.35" >PP</text>
<text transform="translate(1525.9,359.5) scale(1.1,1) rotate(-90)" font-size="16" text-anchor="end" fill="#111" font-weight="bold" stroke="#111" stroke-width="0.35" >P+PBAT</text>
<text transform="translate(1575.3,359.5) scale(1.1,1) rotate(-90)" font-size="16" text-anchor="end" fill="#111" font-weight="bold" stroke="#111" stroke-width="0.35" >P+PLA</text>
<rect x="1238.3" y="422" width="368.7" height="315" fill="none" stroke="#999" stroke-width="1.4"/>
<line x1="1238.3" y1="422" x2="1607" y2="422" stroke="#666" stroke-width="1.6" />
<line x1="1238.3" y1="422" x2="1238.3" y2="737" stroke="#555" stroke-width="1.5" />
<line x1="1238.3" y1="737" x2="1607" y2="737" stroke="#777" stroke-width="1.5" />
<line x1="1234.3" y1="422" x2="1238.3" y2="422" stroke="#666" stroke-width="1.1" />
<text transform="translate(1228,426)" font-size="12.5" text-anchor="end" fill="#111" font-weight="bold" stroke="#111" stroke-width="0.27" textLength="16.5" lengthAdjust="spacingAndGlyphs" >0.0</text>
<line x1="1234.3" y1="479.4" x2="1238.3" y2="479.4" stroke="#666" stroke-width="1.1" />
<text transform="translate(1228,483.4)" font-size="12.5" text-anchor="end" fill="#111" font-weight="bold" stroke="#111" stroke-width="0.27" textLength="16.5" lengthAdjust="spacingAndGlyphs" >1.0</text>
<line x1="1234.3" y1="536.8" x2="1238.3" y2="536.8" stroke="#666" stroke-width="1.1" />
<text transform="translate(1228,540.8)" font-size="12.5" text-anchor="end" fill="#111" font-weight="bold" stroke="#111" stroke-width="0.27" textLength="16.5" lengthAdjust="spacingAndGlyphs" >2.0</text>
<line x1="1234.3" y1="594.2" x2="1238.3" y2="594.2" stroke="#666" stroke-width="1.1" />
<text transform="translate(1228,598.2)" font-size="12.5" text-anchor="end" fill="#111" font-weight="bold" stroke="#111" stroke-width="0.27" textLength="16.5" lengthAdjust="spacingAndGlyphs" >3.0</text>
<line x1="1234.3" y1="651.6" x2="1238.3" y2="651.6" stroke="#666" stroke-width="1.1" />
<text transform="translate(1228,655.6)" font-size="12.5" text-anchor="end" fill="#111" font-weight="bold" stroke="#111" stroke-width="0.27" textLength="16.5" lengthAdjust="spacingAndGlyphs" >4.0</text>
<line x1="1234.3" y1="709" x2="1238.3" y2="709" stroke="#666" stroke-width="1.1" />
<text transform="translate(1228,713)" font-size="12.5" text-anchor="end" fill="#111" font-weight="bold" stroke="#111" stroke-width="0.27" textLength="16.5" lengthAdjust="spacingAndGlyphs" >5.0</text>
<rect x="1257" y="422" width="38.5" height="247.2" fill="#385572" stroke="#24364d" stroke-width="0.8" />
<line x1="1276.2" y1="658.7" x2="1276.2" y2="679.7" stroke="#777" stroke-width="1" />
<line x1="1273.7" y1="658.7" x2="1278.7" y2="658.7" stroke="#777" stroke-width="1" />
<line x1="1273.7" y1="679.7" x2="1278.7" y2="679.7" stroke="#777" stroke-width="1" />
<text transform="translate(1276.2,691)" font-size="11.5" text-anchor="middle" fill="#111" font-weight="bold" stroke="#111" stroke-width="0.25" >b</text>
<rect x="1306" y="422" width="38.5" height="248.8" fill="#385572" stroke="#24364d" stroke-width="0.8" />
<line x1="1325.2" y1="669.5" x2="1325.2" y2="672" stroke="#777" stroke-width="1" />
<line x1="1322.7" y1="669.5" x2="1327.7" y2="669.5" stroke="#777" stroke-width="1" />
<line x1="1322.7" y1="672" x2="1327.7" y2="672" stroke="#777" stroke-width="1" />
<text transform="translate(1325.2,683)" font-size="11.5" text-anchor="middle" fill="#111" font-weight="bold" stroke="#111" stroke-width="0.25" >b</text>
<rect x="1355" y="422" width="38.5" height="273.9" fill="#385572" stroke="#24364d" stroke-width="0.8" />
<line x1="1374.2" y1="688.2" x2="1374.2" y2="705.2" stroke="#888" stroke-width="1" />
<line x1="1371.7" y1="688.2" x2="1376.7" y2="688.2" stroke="#888" stroke-width="1" />
<line x1="1371.7" y1="705.2" x2="1376.7" y2="705.2" stroke="#888" stroke-width="1" />
<text transform="translate(1374.2,716.1)" font-size="11.5" text-anchor="middle" fill="#111" font-weight="bold" stroke="#111" stroke-width="0.25" >a</text>
<rect x="1403.6" y="422" width="38.5" height="184.1" fill="#385572" stroke="#24364d" stroke-width="0.8" />
<line x1="1422.8" y1="603.5" x2="1422.8" y2="608.5" stroke="#777" stroke-width="1" />
<line x1="1420.3" y1="603.5" x2="1425.3" y2="603.5" stroke="#777" stroke-width="1" />
<line x1="1420.3" y1="608.5" x2="1425.3" y2="608.5" stroke="#777" stroke-width="1" />
<text transform="translate(1422.8,620.2)" font-size="11.5" text-anchor="middle" fill="#111" font-weight="bold" stroke="#111" stroke-width="0.25" >d</text>
<rect x="1452.4" y="422" width="38.5" height="215.3" fill="#385572" stroke="#24364d" stroke-width="0.8" />
<line x1="1471.6" y1="634.5" x2="1471.6" y2="640" stroke="#777" stroke-width="1" />
<line x1="1469.1" y1="634.5" x2="1474.1" y2="634.5" stroke="#777" stroke-width="1" />
<line x1="1469.1" y1="640" x2="1474.1" y2="640" stroke="#777" stroke-width="1" />
<text transform="translate(1471.6,651.9)" font-size="11.5" text-anchor="middle" fill="#111" font-weight="bold" stroke="#111" stroke-width="0.25" >c</text>
<rect x="1501.6" y="422" width="38.5" height="102.2" fill="#385572" stroke="#24364d" stroke-width="0.8" />
<line x1="1520.8" y1="522.5" x2="1520.8" y2="526" stroke="#777" stroke-width="1" />
<line x1="1518.3" y1="522.5" x2="1523.3" y2="522.5" stroke="#777" stroke-width="1" />
<line x1="1518.3" y1="526" x2="1523.3" y2="526" stroke="#777" stroke-width="1" />
<text transform="translate(1520.8,537.4)" font-size="11.5" text-anchor="middle" fill="#111" font-weight="bold" stroke="#111" stroke-width="0.25" >f</text>
<rect x="1550.8" y="422" width="38.5" height="172.9" fill="#385572" stroke="#24364d" stroke-width="0.8" />
<line x1="1570" y1="593.5" x2="1570" y2="596.5" stroke="#777" stroke-width="1" />
<line x1="1567.5" y1="593.5" x2="1572.5" y2="593.5" stroke="#777" stroke-width="1" />
<line x1="1567.5" y1="596.5" x2="1572.5" y2="596.5" stroke="#777" stroke-width="1" />
<text transform="translate(1570,608)" font-size="11.5" text-anchor="middle" fill="#111" font-weight="bold" stroke="#111" stroke-width="0.25" >e</text>
<rect x="1527" y="699.2" width="33.6" height="16" fill="#385572" stroke="#24364d" stroke-width="0.8" />
<text transform="translate(1565.4,712.8)" font-size="15" text-anchor="start" fill="#111" font-weight="bold" stroke="#111" stroke-width="0.33" textLength="31.7" lengthAdjust="spacingAndGlyphs" >Root</text>
<text transform="translate(1191.3,639.3) rotate(-90)" font-size="24.3" font-weight="bold" fill="#0a0a0a" stroke="#0a0a0a" stroke-width="0.5" textLength="394.5" lengthAdjust="spacingAndGlyphs">Concentration of Cd in shoot and root</text>
<text transform="translate(1185.6,236.5) rotate(-90)" font-size="19.5" font-weight="bold" fill="#0a0a0a" stroke="#0a0a0a" stroke-width="0.4" textLength="85.5" lengthAdjust="spacing">(µg kg<tspan font-size="12" dy="-8">-1</tspan><tspan dy="8">)</tspan></text>
<text transform="translate(1343.5,784.1)" font-size="33" text-anchor="start" fill="#0a0a0a" font-weight="bold" stroke="#0a0a0a" stroke-width="0.73" textLength="122.5" lengthAdjust="spacingAndGlyphs" >Cd uptake</text>
<text transform="translate(1628.7,26.2) scale(0.95,1)" font-size="34" text-anchor="start" fill="#0a0a0a" font-weight="bold" stroke="#0a0a0a" stroke-width="0.75" >c</text>
<rect x="1714.5" y="34.5" width="434.9" height="305.3" fill="none" stroke="#555" stroke-width="1.3"/>
<line x1="1714.5" y1="34.5" x2="1714.5" y2="339.8" stroke="#333" stroke-width="1.6" />
<line x1="1714.5" y1="339.8" x2="2149.4" y2="339.8" stroke="#333" stroke-width="1.6" />
<line x1="1714.5" y1="327.2" x2="1719.5" y2="327.2" stroke="#444" stroke-width="1.2" />
<text transform="translate(1706.8,332)" font-size="14" text-anchor="end" fill="#111" font-weight="bold" stroke="#111" stroke-width="0.31" textLength="19.5" lengthAdjust="spacingAndGlyphs" >0.0</text>
<line x1="1714.5" y1="254.2" x2="1719.5" y2="254.2" stroke="#444" stroke-width="1.2" />
<text transform="translate(1706.8,259)" font-size="14" text-anchor="end" fill="#111" font-weight="bold" stroke="#111" stroke-width="0.31" textLength="19.5" lengthAdjust="spacingAndGlyphs" >0.3</text>
<line x1="1714.5" y1="181.2" x2="1719.5" y2="181.2" stroke="#444" stroke-width="1.2" />
<text transform="translate(1706.8,186)" font-size="14" text-anchor="end" fill="#111" font-weight="bold" stroke="#111" stroke-width="0.31" textLength="19.5" lengthAdjust="spacingAndGlyphs" >0.6</text>
<line x1="1714.5" y1="108.2" x2="1719.5" y2="108.2" stroke="#444" stroke-width="1.2" />
<text transform="translate(1706.8,113)" font-size="14" text-anchor="end" fill="#111" font-weight="bold" stroke="#111" stroke-width="0.31" textLength="19.5" lengthAdjust="spacingAndGlyphs" >0.9</text>
<line x1="1714.5" y1="35.2" x2="1719.5" y2="35.2" stroke="#444" stroke-width="1.2" />
<text transform="translate(1706.8,40)" font-size="14" text-anchor="end" fill="#111" font-weight="bold" stroke="#111" stroke-width="0.31" textLength="19.5" lengthAdjust="spacingAndGlyphs" >1.2</text>
<line x1="1714.5" y1="290.7" x2="1717.5" y2="290.7" stroke="#444" stroke-width="1" />
<line x1="1714.5" y1="217.7" x2="1717.5" y2="217.7" stroke="#444" stroke-width="1" />
<line x1="1714.5" y1="144.7" x2="1717.5" y2="144.7" stroke="#444" stroke-width="1" />
<line x1="1714.5" y1="71.7" x2="1717.5" y2="71.7" stroke="#444" stroke-width="1" />
<line x1="1714" y1="339.8" x2="1714" y2="335" stroke="#444" stroke-width="1.2" />
<text transform="translate(1714,358)" font-size="14" text-anchor="middle" fill="#111" font-weight="bold" stroke="#111" stroke-width="0.31" textLength="8" lengthAdjust="spacingAndGlyphs" >0</text>
<line x1="1779.2" y1="339.8" x2="1779.2" y2="335" stroke="#444" stroke-width="1.2" />
<text transform="translate(1779.2,358)" font-size="14" text-anchor="middle" fill="#111" font-weight="bold" stroke="#111" stroke-width="0.31" textLength="17.5" lengthAdjust="spacingAndGlyphs" >24</text>
<line x1="1844.4" y1="339.8" x2="1844.4" y2="335" stroke="#444" stroke-width="1.2" />
<text transform="translate(1844.4,358)" font-size="14" text-anchor="middle" fill="#111" font-weight="bold" stroke="#111" stroke-width="0.31" textLength="17.5" lengthAdjust="spacingAndGlyphs" >48</text>
<line x1="1909.6" y1="339.8" x2="1909.6" y2="335" stroke="#444" stroke-width="1.2" />
<text transform="translate(1909.6,358)" font-size="14" text-anchor="middle" fill="#111" font-weight="bold" stroke="#111" stroke-width="0.31" textLength="17.5" lengthAdjust="spacingAndGlyphs" >72</text>
<line x1="1974.8" y1="339.8" x2="1974.8" y2="335" stroke="#444" stroke-width="1.2" />
<text transform="translate(1974.8,358)" font-size="14" text-anchor="middle" fill="#111" font-weight="bold" stroke="#111" stroke-width="0.31" textLength="17.5" lengthAdjust="spacingAndGlyphs" >96</text>
<line x1="2040" y1="339.8" x2="2040" y2="335" stroke="#444" stroke-width="1.2" />
<text transform="translate(2040,358)" font-size="14" text-anchor="middle" fill="#111" font-weight="bold" stroke="#111" stroke-width="0.31" textLength="27" lengthAdjust="spacingAndGlyphs" >120</text>
<line x1="2105.2" y1="339.8" x2="2105.2" y2="335" stroke="#444" stroke-width="1.2" />
<text transform="translate(2105.2,358)" font-size="14" text-anchor="middle" fill="#111" font-weight="bold" stroke="#111" stroke-width="0.31" textLength="27" lengthAdjust="spacingAndGlyphs" >144</text>
<text transform="translate(1902.1,384.2)" font-size="16" text-anchor="start" fill="#111" font-weight="bold" stroke="#111" stroke-width="0.35" textLength="59.4" lengthAdjust="spacingAndGlyphs" >Time (h)</text>
<text transform="translate(1668.5,213.2) rotate(-90)" font-size="26" text-anchor="start" fill="#0a0a0a" font-weight="bold" stroke="#0a0a0a" stroke-width="0.57" textLength="65.4" lengthAdjust="spacingAndGlyphs" >AWCD</text>
<line x1="2007.4" y1="276" x2="2007.4" y2="319.3" stroke="#b0b0b0" stroke-width="1.2" />
<line x1="2003.9" y1="276" x2="2010.9" y2="276" stroke="#b0b0b0" stroke-width="1.2" />
<line x1="2003.9" y1="319.3" x2="2010.9" y2="319.3" stroke="#b0b0b0" stroke-width="1.2" />
<line x1="2105.2" y1="257.5" x2="2105.2" y2="278.5" stroke="#b0b0b0" stroke-width="1.2" />
<line x1="2101.7" y1="257.5" x2="2108.7" y2="257.5" stroke="#b0b0b0" stroke-width="1.2" />
<line x1="2101.7" y1="278.5" x2="2108.7" y2="278.5" stroke="#b0b0b0" stroke-width="1.2" />
<line x1="1942.2" y1="303.8" x2="1942.2" y2="318.7" stroke="#b0b0b0" stroke-width="1.2" />
<line x1="1938.7" y1="303.8" x2="1945.7" y2="303.8" stroke="#b0b0b0" stroke-width="1.2" />
<line x1="1938.7" y1="318.7" x2="1945.7" y2="318.7" stroke="#b0b0b0" stroke-width="1.2" />
<line x1="2072.6" y1="271" x2="2072.6" y2="281" stroke="#b0b0b0" stroke-width="1.2" />
<line x1="2069.1" y1="271" x2="2076.1" y2="271" stroke="#b0b0b0" stroke-width="1.2" />
<line x1="2069.1" y1="281" x2="2076.1" y2="281" stroke="#b0b0b0" stroke-width="1.2" />
<line x1="2040" y1="284" x2="2040" y2="290" stroke="#b0b0b0" stroke-width="1.2" />
<line x1="2036.5" y1="284" x2="2043.5" y2="284" stroke="#b0b0b0" stroke-width="1.2" />
<line x1="2036.5" y1="290" x2="2043.5" y2="290" stroke="#b0b0b0" stroke-width="1.2" />
<line x1="2040" y1="253" x2="2040" y2="261" stroke="#86a6d4" stroke-width="1.2" />
<line x1="2036.5" y1="253" x2="2043.5" y2="253" stroke="#86a6d4" stroke-width="1.2" />
<line x1="2036.5" y1="261" x2="2043.5" y2="261" stroke="#86a6d4" stroke-width="1.2" />
<line x1="2072.6" y1="245" x2="2072.6" y2="254" stroke="#86a6d4" stroke-width="1.2" />
<line x1="2069.1" y1="245" x2="2076.1" y2="245" stroke="#86a6d4" stroke-width="1.2" />
<line x1="2069.1" y1="254" x2="2076.1" y2="254" stroke="#86a6d4" stroke-width="1.2" />
<line x1="2007.4" y1="264" x2="2007.4" y2="275" stroke="#86a6d4" stroke-width="1.2" />
<line x1="2003.9" y1="264" x2="2010.9" y2="264" stroke="#86a6d4" stroke-width="1.2" />
<line x1="2003.9" y1="275" x2="2010.9" y2="275" stroke="#86a6d4" stroke-width="1.2" />
<line x1="2040" y1="255" x2="2040" y2="270" stroke="#f0a8a8" stroke-width="1.2" />
<line x1="2036.5" y1="255" x2="2043.5" y2="255" stroke="#f0a8a8" stroke-width="1.2" />
<line x1="2036.5" y1="270" x2="2043.5" y2="270" stroke="#f0a8a8" stroke-width="1.2" />
<line x1="2072.6" y1="248" x2="2072.6" y2="259" stroke="#f0a8a8" stroke-width="1.2" />
<line x1="2069.1" y1="248" x2="2076.1" y2="248" stroke="#f0a8a8" stroke-width="1.2" />
<line x1="2069.1" y1="259" x2="2076.1" y2="259" stroke="#f0a8a8" stroke-width="1.2" />
<line x1="2105.2" y1="177" x2="2105.2" y2="201.8" stroke="#4f7fc0" stroke-width="1.2" />
<line x1="2101.7" y1="177" x2="2108.7" y2="177" stroke="#4f7fc0" stroke-width="1.2" />
<line x1="2101.7" y1="201.8" x2="2108.7" y2="201.8" stroke="#4f7fc0" stroke-width="1.2" />
<line x1="2040" y1="224" x2="2040" y2="232" stroke="#4f7fc0" stroke-width="1.2" />
<line x1="2036.5" y1="224" x2="2043.5" y2="224" stroke="#4f7fc0" stroke-width="1.2" />
<line x1="2036.5" y1="232" x2="2043.5" y2="232" stroke="#4f7fc0" stroke-width="1.2" />
<line x1="2072.6" y1="200.3" x2="2072.6" y2="221.9" stroke="#e06060" stroke-width="1.2" />
<line x1="2069.1" y1="200.3" x2="2076.1" y2="200.3" stroke="#e06060" stroke-width="1.2" />
<line x1="2069.1" y1="221.9" x2="2076.1" y2="221.9" stroke="#e06060" stroke-width="1.2" />
<line x1="2007.4" y1="240.5" x2="2007.4" y2="255" stroke="#e06060" stroke-width="1.2" />
<line x1="2003.9" y1="240.5" x2="2010.9" y2="240.5" stroke="#e06060" stroke-width="1.2" />
<line x1="2003.9" y1="255" x2="2010.9" y2="255" stroke="#e06060" stroke-width="1.2" />
<line x1="2105.2" y1="191" x2="2105.2" y2="199" stroke="#e06060" stroke-width="1.2" />
<line x1="2101.7" y1="191" x2="2108.7" y2="191" stroke="#e06060" stroke-width="1.2" />
<line x1="2101.7" y1="199" x2="2108.7" y2="199" stroke="#e06060" stroke-width="1.2" />
<line x1="2040" y1="226" x2="2040" y2="238" stroke="#e06060" stroke-width="1.2" />
<line x1="2036.5" y1="226" x2="2043.5" y2="226" stroke="#e06060" stroke-width="1.2" />
<line x1="2036.5" y1="238" x2="2043.5" y2="238" stroke="#e06060" stroke-width="1.2" />
<line x1="1974.8" y1="239" x2="1974.8" y2="248" stroke="#4c7d5c" stroke-width="1.2" />
<line x1="1971.3" y1="239" x2="1978.3" y2="239" stroke="#4c7d5c" stroke-width="1.2" />
<line x1="1971.3" y1="248" x2="1978.3" y2="248" stroke="#4c7d5c" stroke-width="1.2" />
<line x1="2105.2" y1="165" x2="2105.2" y2="174" stroke="#4c7d5c" stroke-width="1.2" />
<line x1="2101.7" y1="165" x2="2108.7" y2="165" stroke="#4c7d5c" stroke-width="1.2" />
<line x1="2101.7" y1="174" x2="2108.7" y2="174" stroke="#4c7d5c" stroke-width="1.2" />
<line x1="2072.6" y1="184" x2="2072.6" y2="193" stroke="#4c7d5c" stroke-width="1.2" />
<line x1="2069.1" y1="184" x2="2076.1" y2="184" stroke="#4c7d5c" stroke-width="1.2" />
<line x1="2069.1" y1="193" x2="2076.1" y2="193" stroke="#4c7d5c" stroke-width="1.2" />
<line x1="2040" y1="199" x2="2040" y2="208" stroke="#4c7d5c" stroke-width="1.2" />
<line x1="2036.5" y1="199" x2="2043.5" y2="199" stroke="#4c7d5c" stroke-width="1.2" />
<line x1="2036.5" y1="208" x2="2043.5" y2="208" stroke="#4c7d5c" stroke-width="1.2" />
<line x1="1877" y1="243.6" x2="1877" y2="252.8" stroke="#a2a2a2" stroke-width="1.2" />
<line x1="1873.5" y1="243.6" x2="1880.5" y2="243.6" stroke="#a2a2a2" stroke-width="1.2" />
<line x1="1873.5" y1="252.8" x2="1880.5" y2="252.8" stroke="#a2a2a2" stroke-width="1.2" />
<line x1="1909.6" y1="217.3" x2="1909.6" y2="238.9" stroke="#a2a2a2" stroke-width="1.2" />
<line x1="1906.1" y1="217.3" x2="1913.1" y2="217.3" stroke="#a2a2a2" stroke-width="1.2" />
<line x1="1906.1" y1="238.9" x2="1913.1" y2="238.9" stroke="#a2a2a2" stroke-width="1.2" />
<line x1="1942.2" y1="191" x2="1942.2" y2="200.3" stroke="#a2a2a2" stroke-width="1.2" />
<line x1="1938.7" y1="191" x2="1945.7" y2="191" stroke="#a2a2a2" stroke-width="1.2" />
<line x1="1938.7" y1="200.3" x2="1945.7" y2="200.3" stroke="#a2a2a2" stroke-width="1.2" />
<line x1="1974.8" y1="167" x2="1974.8" y2="177" stroke="#a2a2a2" stroke-width="1.2" />
<line x1="1971.3" y1="167" x2="1978.3" y2="167" stroke="#a2a2a2" stroke-width="1.2" />
<line x1="1971.3" y1="177" x2="1978.3" y2="177" stroke="#a2a2a2" stroke-width="1.2" />
<line x1="2007.4" y1="131.3" x2="2007.4" y2="174.8" stroke="#a2a2a2" stroke-width="1.2" />
<line x1="2003.9" y1="131.3" x2="2010.9" y2="131.3" stroke="#a2a2a2" stroke-width="1.2" />
<line x1="2003.9" y1="174.8" x2="2010.9" y2="174.8" stroke="#a2a2a2" stroke-width="1.2" />
<line x1="2040" y1="113.5" x2="2040" y2="148.1" stroke="#a2a2a2" stroke-width="1.2" />
<line x1="2036.5" y1="113.5" x2="2043.5" y2="113.5" stroke="#a2a2a2" stroke-width="1.2" />
<line x1="2036.5" y1="148.1" x2="2043.5" y2="148.1" stroke="#a2a2a2" stroke-width="1.2" />
<line x1="2072.6" y1="109" x2="2072.6" y2="120" stroke="#a2a2a2" stroke-width="1.2" />
<line x1="2069.1" y1="109" x2="2076.1" y2="109" stroke="#a2a2a2" stroke-width="1.2" />
<line x1="2069.1" y1="120" x2="2076.1" y2="120" stroke="#a2a2a2" stroke-width="1.2" />
<line x1="2105.2" y1="65" x2="2105.2" y2="112.4" stroke="#a2a2a2" stroke-width="1.2" />
<line x1="2101.7" y1="65" x2="2108.7" y2="65" stroke="#a2a2a2" stroke-width="1.2" />
<line x1="2101.7" y1="112.4" x2="2108.7" y2="112.4" stroke="#a2a2a2" stroke-width="1.2" />
<line x1="1844.4" y1="283" x2="1844.4" y2="292" stroke="#a2a2a2" stroke-width="1.2" />
<line x1="1840.9" y1="283" x2="1847.9" y2="283" stroke="#a2a2a2" stroke-width="1.2" />
<line x1="1840.9" y1="292" x2="1847.9" y2="292" stroke="#a2a2a2" stroke-width="1.2" />
<path d="M1714,327 L1746.6,326.5 L1779.2,325.5 L1811.8,325.3 L1844.4,324.2 L1877,322.4 L1909.6,312.2 L1942.2,309.4 L1974.8,305.4 L2007.4,296.7 L2040,287.4 L2072.6,276 L2105.2,268.3" fill="none" stroke="#b0b0b0" stroke-width="1.1"/>
<circle cx="1714" cy="327" r="3" fill="#fdfdfb" stroke="#8a8a8a" stroke-width="1.2"/>
<circle cx="1746.6" cy="326.5" r="3" fill="#fdfdfb" stroke="#8a8a8a" stroke-width="1.2"/>
<circle cx="1779.2" cy="325.5" r="3" fill="#fdfdfb" stroke="#8a8a8a" stroke-width="1.2"/>
<circle cx="1811.8" cy="325.3" r="3" fill="#fdfdfb" stroke="#8a8a8a" stroke-width="1.2"/>
<circle cx="1844.4" cy="324.2" r="3" fill="#fdfdfb" stroke="#8a8a8a" stroke-width="1.2"/>
<circle cx="1877" cy="322.4" r="3" fill="#fdfdfb" stroke="#8a8a8a" stroke-width="1.2"/>
<circle cx="1909.6" cy="312.2" r="3" fill="#fdfdfb" stroke="#8a8a8a" stroke-width="1.2"/>
<circle cx="1942.2" cy="309.4" r="3" fill="#fdfdfb" stroke="#8a8a8a" stroke-width="1.2"/>
<circle cx="1974.8" cy="305.4" r="3" fill="#fdfdfb" stroke="#8a8a8a" stroke-width="1.2"/>
<circle cx="2007.4" cy="296.7" r="3" fill="#fdfdfb" stroke="#8a8a8a" stroke-width="1.2"/>
<circle cx="2040" cy="287.4" r="3" fill="#fdfdfb" stroke="#8a8a8a" stroke-width="1.2"/>
<circle cx="2072.6" cy="276" r="3" fill="#fdfdfb" stroke="#8a8a8a" stroke-width="1.2"/>
<circle cx="2105.2" cy="268.3" r="3" fill="#fdfdfb" stroke="#8a8a8a" stroke-width="1.2"/>
<path d="M1714,327 L1746.6,326.5 L1779.2,325.5 L1811.8,324.5 L1844.4,319.3 L1877,312.5 L1909.6,305.4 L1942.2,297 L1974.8,283.7 L2007.4,269.8 L2040,256.8 L2072.6,249.7 L2105.2,229.6" fill="none" stroke="#86a6d4" stroke-width="1.1"/>
<circle cx="1714" cy="327" r="3" fill="#fdfdfb" stroke="#3b6db5" stroke-width="1.2"/>
<circle cx="1746.6" cy="326.5" r="3" fill="#fdfdfb" stroke="#3b6db5" stroke-width="1.2"/>
<circle cx="1779.2" cy="325.5" r="3" fill="#fdfdfb" stroke="#3b6db5" stroke-width="1.2"/>
<circle cx="1811.8" cy="324.5" r="3" fill="#fdfdfb" stroke="#3b6db5" stroke-width="1.2"/>
<circle cx="1844.4" cy="319.3" r="3" fill="#fdfdfb" stroke="#3b6db5" stroke-width="1.2"/>
<circle cx="1877" cy="312.5" r="3" fill="#fdfdfb" stroke="#3b6db5" stroke-width="1.2"/>
<circle cx="1909.6" cy="305.4" r="3" fill="#fdfdfb" stroke="#3b6db5" stroke-width="1.2"/>
<circle cx="1942.2" cy="297" r="3" fill="#fdfdfb" stroke="#3b6db5" stroke-width="1.2"/>
<circle cx="1974.8" cy="283.7" r="3" fill="#fdfdfb" stroke="#3b6db5" stroke-width="1.2"/>
<circle cx="2007.4" cy="269.8" r="3" fill="#fdfdfb" stroke="#3b6db5" stroke-width="1.2"/>
<circle cx="2040" cy="256.8" r="3" fill="#fdfdfb" stroke="#3b6db5" stroke-width="1.2"/>
<circle cx="2072.6" cy="249.7" r="3" fill="#fdfdfb" stroke="#3b6db5" stroke-width="1.2"/>
<circle cx="2105.2" cy="229.6" r="3" fill="#fdfdfb" stroke="#3b6db5" stroke-width="1.2"/>
<path d="M1714,327 L1746.6,326.5 L1779.2,325.5 L1811.8,321 L1844.4,312 L1877,300.7 L1909.6,300.7 L1942.2,288 L1974.8,276 L2007.4,269.8 L2040,262.1 L2072.6,253.8 L2105.2,242.9" fill="none" stroke="#f0a8a8" stroke-width="1.1"/>
<circle cx="1714" cy="327" r="3" fill="#fdfdfb" stroke="#d84040" stroke-width="1.2"/>
<circle cx="1746.6" cy="326.5" r="3" fill="#fdfdfb" stroke="#d84040" stroke-width="1.2"/>
<circle cx="1779.2" cy="325.5" r="3" fill="#fdfdfb" stroke="#d84040" stroke-width="1.2"/>
<circle cx="1811.8" cy="321" r="3" fill="#fdfdfb" stroke="#d84040" stroke-width="1.2"/>
<circle cx="1844.4" cy="312" r="3" fill="#fdfdfb" stroke="#d84040" stroke-width="1.2"/>
<circle cx="1877" cy="300.7" r="3" fill="#fdfdfb" stroke="#d84040" stroke-width="1.2"/>
<circle cx="1909.6" cy="300.7" r="3" fill="#fdfdfb" stroke="#d84040" stroke-width="1.2"/>
<circle cx="1942.2" cy="288" r="3" fill="#fdfdfb" stroke="#d84040" stroke-width="1.2"/>
<circle cx="1974.8" cy="276" r="3" fill="#fdfdfb" stroke="#d84040" stroke-width="1.2"/>
<circle cx="2007.4" cy="269.8" r="3" fill="#fdfdfb" stroke="#d84040" stroke-width="1.2"/>
<circle cx="2040" cy="262.1" r="3" fill="#fdfdfb" stroke="#d84040" stroke-width="1.2"/>
<circle cx="2072.6" cy="253.8" r="3" fill="#fdfdfb" stroke="#d84040" stroke-width="1.2"/>
<circle cx="2105.2" cy="242.9" r="3" fill="#fdfdfb" stroke="#d84040" stroke-width="1.2"/>
<path d="M1714,327 L1746.6,326.5 L1779.2,325.5 L1811.8,324.5 L1844.4,317 L1877,311.6 L1909.6,304.2 L1942.2,283 L1974.8,251.3 L2007.4,232.7 L2040,212.6 L2072.6,206.5 L2105.2,198.7" fill="none" stroke="#888" stroke-width="1.1" stroke-dasharray="1.5,4"/>
<circle cx="1714" cy="327" r="3" fill="#fdfdfb" stroke="#707070" stroke-width="1.2"/>
<circle cx="1746.6" cy="326.5" r="3" fill="#fdfdfb" stroke="#707070" stroke-width="1.2"/>
<circle cx="1779.2" cy="325.5" r="3" fill="#fdfdfb" stroke="#707070" stroke-width="1.2"/>
<circle cx="1811.8" cy="324.5" r="3" fill="#fdfdfb" stroke="#707070" stroke-width="1.2"/>
<circle cx="1844.4" cy="317" r="3" fill="#fdfdfb" stroke="#707070" stroke-width="1.2"/>
<circle cx="1877" cy="311.6" r="3" fill="#fdfdfb" stroke="#707070" stroke-width="1.2"/>
<circle cx="1909.6" cy="304.2" r="3" fill="#fdfdfb" stroke="#707070" stroke-width="1.2"/>
<circle cx="1942.2" cy="283" r="3" fill="#fdfdfb" stroke="#707070" stroke-width="1.2"/>
<circle cx="1974.8" cy="251.3" r="3" fill="#fdfdfb" stroke="#707070" stroke-width="1.2"/>
<circle cx="2007.4" cy="232.7" r="3" fill="#fdfdfb" stroke="#707070" stroke-width="1.2"/>
<circle cx="2040" cy="212.6" r="3" fill="#fdfdfb" stroke="#707070" stroke-width="1.2"/>
<circle cx="2072.6" cy="206.5" r="3" fill="#fdfdfb" stroke="#707070" stroke-width="1.2"/>
<circle cx="2105.2" cy="198.7" r="3" fill="#fdfdfb" stroke="#707070" stroke-width="1.2"/>
<path d="M1714,327 L1746.6,326.5 L1779.2,325.5 L1811.8,324.2 L1844.4,317.7 L1877,313.1 L1909.6,309.4 L1942.2,288.4 L1974.8,246.6 L2007.4,235.8 L2040,228.1 L2072.6,206.5 L2105.2,188.5" fill="none" stroke="#4f7fc0" stroke-width="1.1"/>
<circle cx="1714" cy="327" r="3" fill="#2557a5" stroke="#4f7fc0" stroke-width="1"/>
<circle cx="1746.6" cy="326.5" r="3" fill="#2557a5" stroke="#4f7fc0" stroke-width="1"/>
<circle cx="1779.2" cy="325.5" r="3" fill="#2557a5" stroke="#4f7fc0" stroke-width="1"/>
<circle cx="1811.8" cy="324.2" r="3" fill="#2557a5" stroke="#4f7fc0" stroke-width="1"/>
<circle cx="1844.4" cy="317.7" r="3" fill="#2557a5" stroke="#4f7fc0" stroke-width="1"/>
<circle cx="1877" cy="313.1" r="3" fill="#2557a5" stroke="#4f7fc0" stroke-width="1"/>
<circle cx="1909.6" cy="309.4" r="3" fill="#2557a5" stroke="#4f7fc0" stroke-width="1"/>
<circle cx="1942.2" cy="288.4" r="3" fill="#2557a5" stroke="#4f7fc0" stroke-width="1"/>
<circle cx="1974.8" cy="246.6" r="3" fill="#2557a5" stroke="#4f7fc0" stroke-width="1"/>
<circle cx="2007.4" cy="235.8" r="3" fill="#2557a5" stroke="#4f7fc0" stroke-width="1"/>
<circle cx="2040" cy="228.1" r="3" fill="#2557a5" stroke="#4f7fc0" stroke-width="1"/>
<circle cx="2072.6" cy="206.5" r="3" fill="#2557a5" stroke="#4f7fc0" stroke-width="1"/>
<circle cx="2105.2" cy="188.5" r="3" fill="#2557a5" stroke="#4f7fc0" stroke-width="1"/>
<path d="M1714,327 L1746.6,326.5 L1779.2,325.5 L1811.8,319.9 L1844.4,313.1 L1877,300.7 L1909.6,296.1 L1942.2,285.3 L1974.8,262.1 L2007.4,245.7 L2040,232.1 L2072.6,211.1 L2105.2,195" fill="none" stroke="#e06060" stroke-width="1.1"/>
<circle cx="1714" cy="327" r="3" fill="#e02828" stroke="#e06060" stroke-width="1"/>
<circle cx="1746.6" cy="326.5" r="3" fill="#e02828" stroke="#e06060" stroke-width="1"/>
<circle cx="1779.2" cy="325.5" r="3" fill="#e02828" stroke="#e06060" stroke-width="1"/>
<circle cx="1811.8" cy="319.9" r="3" fill="#e02828" stroke="#e06060" stroke-width="1"/>
<circle cx="1844.4" cy="313.1" r="3" fill="#e02828" stroke="#e06060" stroke-width="1"/>
<circle cx="1877" cy="300.7" r="3" fill="#e02828" stroke="#e06060" stroke-width="1"/>
<circle cx="1909.6" cy="296.1" r="3" fill="#e02828" stroke="#e06060" stroke-width="1"/>
<circle cx="1942.2" cy="285.3" r="3" fill="#e02828" stroke="#e06060" stroke-width="1"/>
<circle cx="1974.8" cy="262.1" r="3" fill="#e02828" stroke="#e06060" stroke-width="1"/>
<circle cx="2007.4" cy="245.7" r="3" fill="#e02828" stroke="#e06060" stroke-width="1"/>
<circle cx="2040" cy="232.1" r="3" fill="#e02828" stroke="#e06060" stroke-width="1"/>
<circle cx="2072.6" cy="211.1" r="3" fill="#e02828" stroke="#e06060" stroke-width="1"/>
<circle cx="2105.2" cy="195" r="3" fill="#e02828" stroke="#e06060" stroke-width="1"/>
<path d="M1714,327 L1746.6,326.5 L1779.2,325.5 L1811.8,324.2 L1844.4,317.7 L1877,308.5 L1909.6,291.5 L1942.2,279.1 L1974.8,243.6 L2007.4,222.5 L2040,203.4 L2072.6,188.5 L2105.2,169.4" fill="none" stroke="#4c7d5c" stroke-width="1.1"/>
<circle cx="1714" cy="327" r="3" fill="#1d5a30" stroke="#4c7d5c" stroke-width="1"/>
<circle cx="1746.6" cy="326.5" r="3" fill="#1d5a30" stroke="#4c7d5c" stroke-width="1"/>
<circle cx="1779.2" cy="325.5" r="3" fill="#1d5a30" stroke="#4c7d5c" stroke-width="1"/>
<circle cx="1811.8" cy="324.2" r="3" fill="#1d5a30" stroke="#4c7d5c" stroke-width="1"/>
<circle cx="1844.4" cy="317.7" r="3" fill="#1d5a30" stroke="#4c7d5c" stroke-width="1"/>
<circle cx="1877" cy="308.5" r="3" fill="#1d5a30" stroke="#4c7d5c" stroke-width="1"/>
<circle cx="1909.6" cy="291.5" r="3" fill="#1d5a30" stroke="#4c7d5c" stroke-width="1"/>
<circle cx="1942.2" cy="279.1" r="3" fill="#1d5a30" stroke="#4c7d5c" stroke-width="1"/>
<circle cx="1974.8" cy="243.6" r="3" fill="#1d5a30" stroke="#4c7d5c" stroke-width="1"/>
<circle cx="2007.4" cy="222.5" r="3" fill="#1d5a30" stroke="#4c7d5c" stroke-width="1"/>
<circle cx="2040" cy="203.4" r="3" fill="#1d5a30" stroke="#4c7d5c" stroke-width="1"/>
<circle cx="2072.6" cy="188.5" r="3" fill="#1d5a30" stroke="#4c7d5c" stroke-width="1"/>
<circle cx="2105.2" cy="169.4" r="3" fill="#1d5a30" stroke="#4c7d5c" stroke-width="1"/>
<path d="M1714,327 L1746.6,326.3 L1779.2,324.9 L1811.8,313.7 L1844.4,287.8 L1877,248.2 L1909.6,228 L1942.2,194.4 L1974.8,172 L2007.4,153.4 L2040,130.2 L2072.6,114.2 L2105.2,88.5" fill="none" stroke="#a2a2a2" stroke-width="1.1"/>
<circle cx="1714" cy="327" r="3" fill="#b0a69d" stroke="#7d756e" stroke-width="1"/>
<circle cx="1746.6" cy="326.3" r="3" fill="#b0a69d" stroke="#7d756e" stroke-width="1"/>
<circle cx="1779.2" cy="324.9" r="3" fill="#b0a69d" stroke="#7d756e" stroke-width="1"/>
<circle cx="1811.8" cy="313.7" r="3" fill="#b0a69d" stroke="#7d756e" stroke-width="1"/>
<circle cx="1844.4" cy="287.8" r="3" fill="#b0a69d" stroke="#7d756e" stroke-width="1"/>
<circle cx="1877" cy="248.2" r="3" fill="#b0a69d" stroke="#7d756e" stroke-width="1"/>
<circle cx="1909.6" cy="228" r="3" fill="#b0a69d" stroke="#7d756e" stroke-width="1"/>
<circle cx="1942.2" cy="194.4" r="3" fill="#b0a69d" stroke="#7d756e" stroke-width="1"/>
<circle cx="1974.8" cy="172" r="3" fill="#b0a69d" stroke="#7d756e" stroke-width="1"/>
<circle cx="2007.4" cy="153.4" r="3" fill="#b0a69d" stroke="#7d756e" stroke-width="1"/>
<circle cx="2040" cy="130.2" r="3" fill="#b0a69d" stroke="#7d756e" stroke-width="1"/>
<circle cx="2072.6" cy="114.2" r="3" fill="#b0a69d" stroke="#7d756e" stroke-width="1"/>
<circle cx="2105.2" cy="88.5" r="3" fill="#b0a69d" stroke="#7d756e" stroke-width="1"/>
<line x1="1747.3" y1="63" x2="1781.7" y2="63" stroke="#b0b0b0" stroke-width="1.8" />
<circle cx="1764.4" cy="63" r="2.7" fill="#fdfdfb" stroke="#8a8a8a" stroke-width="1.2"/>
<text transform="translate(1785.3,67.5)" font-size="13.5" text-anchor="start" fill="#1a1a1a" font-weight="bold" stroke="#1a1a1a" stroke-width="0.3" textLength="49.5" lengthAdjust="spacingAndGlyphs" >Control</text>
<line x1="1747.3" y1="80.44" x2="1781.7" y2="80.44" stroke="#a2a2a2" stroke-width="1.8" />
<circle cx="1764.4" cy="80.44" r="2.7" fill="#b0a69d" stroke="#a2a2a2" stroke-width="1"/>
<text transform="translate(1785.3,84.94)" font-size="13.5" text-anchor="start" fill="#1a1a1a" font-weight="bold" stroke="#1a1a1a" stroke-width="0.3" textLength="35" lengthAdjust="spacingAndGlyphs" >Plant</text>
<line x1="1747.3" y1="97.88" x2="1781.7" y2="97.88" stroke="#86a6d4" stroke-width="1.8" />
<circle cx="1764.4" cy="97.88" r="2.7" fill="#fdfdfb" stroke="#3b6db5" stroke-width="1.2"/>
<text transform="translate(1785.3,102.38)" font-size="13.5" text-anchor="start" fill="#1a1a1a" font-weight="bold" stroke="#1a1a1a" stroke-width="0.3" textLength="37" lengthAdjust="spacingAndGlyphs" >P+PE</text>
<line x1="1747.3" y1="115.32" x2="1781.7" y2="115.32" stroke="#4f7fc0" stroke-width="1.8" />
<circle cx="1764.4" cy="115.32" r="2.7" fill="#2557a5" stroke="#4f7fc0" stroke-width="1"/>
<text transform="translate(1785.3,119.82)" font-size="13.5" text-anchor="start" fill="#1a1a1a" font-weight="bold" stroke="#1a1a1a" stroke-width="0.3" textLength="73" lengthAdjust="spacingAndGlyphs" >P+Aged PE</text>
<line x1="1747.3" y1="132.76" x2="1781.7" y2="132.76" stroke="#f0a8a8" stroke-width="1.8" />
<circle cx="1764.4" cy="132.76" r="2.7" fill="#fdfdfb" stroke="#d84040" stroke-width="1.2"/>
<text transform="translate(1785.3,137.26)" font-size="13.5" text-anchor="start" fill="#1a1a1a" font-weight="bold" stroke="#1a1a1a" stroke-width="0.3" textLength="37.5" lengthAdjust="spacingAndGlyphs" >P+PP</text>
<line x1="1747.3" y1="150.2" x2="1781.7" y2="150.2" stroke="#e06060" stroke-width="1.8" />
<circle cx="1764.4" cy="150.2" r="2.7" fill="#e02828" stroke="#e06060" stroke-width="1"/>
<text transform="translate(1785.3,154.7)" font-size="13.5" text-anchor="start" fill="#1a1a1a" font-weight="bold" stroke="#1a1a1a" stroke-width="0.3" textLength="74" lengthAdjust="spacingAndGlyphs" >P+Aged PP</text>
<line x1="1747.3" y1="167.64" x2="1781.7" y2="167.64" stroke="#4c7d5c" stroke-width="1.8" />
<circle cx="1764.4" cy="167.64" r="2.7" fill="#1d5a30" stroke="#4c7d5c" stroke-width="1"/>
<text transform="translate(1785.3,172.14)" font-size="13.5" text-anchor="start" fill="#1a1a1a" font-weight="bold" stroke="#1a1a1a" stroke-width="0.3" textLength="56" lengthAdjust="spacingAndGlyphs" >P+PBAT</text>
<line x1="1747.3" y1="185.08" x2="1781.7" y2="185.08" stroke="#888" stroke-width="1.8"  stroke-dasharray="1.5,4"/>
<circle cx="1764.4" cy="185.08" r="2.7" fill="#fdfdfb" stroke="#707070" stroke-width="1.2"/>
<text transform="translate(1785.3,189.58)" font-size="13.5" text-anchor="start" fill="#1a1a1a" font-weight="bold" stroke="#1a1a1a" stroke-width="0.3" textLength="46" lengthAdjust="spacingAndGlyphs" >P+PLA</text>
<rect x="1755.8" y="410.8" width="328.8" height="297.5" fill="#fdfdfb" stroke="#333" stroke-width="1.6"/>
<line x1="1776.1" y1="412" x2="1776.1" y2="707" stroke="#f5ecec" stroke-width="1" />
<line x1="1817.1" y1="412" x2="1817.1" y2="707" stroke="#f5ecec" stroke-width="1" />
<line x1="1858.1" y1="412" x2="1858.1" y2="707" stroke="#f5ecec" stroke-width="1" />
<line x1="1899.1" y1="412" x2="1899.1" y2="707" stroke="#f5ecec" stroke-width="1" />
<line x1="1940.1" y1="412" x2="1940.1" y2="707" stroke="#f5ecec" stroke-width="1" />
<line x1="1981.1" y1="412" x2="1981.1" y2="707" stroke="#f5ecec" stroke-width="1" />
<line x1="2022.1" y1="412" x2="2022.1" y2="707" stroke="#f5ecec" stroke-width="1" />
<line x1="2063.1" y1="412" x2="2063.1" y2="707" stroke="#f5ecec" stroke-width="1" />
<line x1="1757" y1="436" x2="2083.5" y2="436" stroke="#f3ecec" stroke-width="1" />
<line x1="1757" y1="485.6" x2="2083.5" y2="485.6" stroke="#f3ecec" stroke-width="1" />
<line x1="1757" y1="535.6" x2="2083.5" y2="535.6" stroke="#f3ecec" stroke-width="1" />
<line x1="1757" y1="584.2" x2="2083.5" y2="584.2" stroke="#f3ecec" stroke-width="1" />
<line x1="1757" y1="634.2" x2="2083.5" y2="634.2" stroke="#f3ecec" stroke-width="1" />
<line x1="1757" y1="683.4" x2="2083.5" y2="683.4" stroke="#f3ecec" stroke-width="1" />
<ellipse cx="1776.1" cy="436" rx="0.7" ry="0.6" fill="#5aaee0"/>
<ellipse cx="1817.1" cy="436" rx="5.2" ry="4" fill="#5aaee0"/>
<ellipse cx="1858.1" cy="436" rx="3.8" ry="2.6" fill="#5aaee0"/>
<ellipse cx="1899.1" cy="436" rx="3" ry="2.4" fill="#5aaee0"/>
<ellipse cx="1940.1" cy="436" rx="2.3" ry="1.6" fill="#5aaee0"/>
<ellipse cx="1981.1" cy="436" rx="3" ry="2.4" fill="#5aaee0"/>
<ellipse cx="2022.1" cy="436" rx="4.5" ry="3.8" fill="#5aaee0"/>
<ellipse cx="2063.1" cy="436" rx="1.3" ry="1" fill="#5aaee0"/>
<ellipse cx="1776.1" cy="485.6" rx="2.4" ry="1.7" fill="#62b3b0"/>
<ellipse cx="1817.1" cy="485.6" rx="4.5" ry="3.8" fill="#62b3b0"/>
<ellipse cx="1858.1" cy="485.6" rx="3" ry="2.4" fill="#62b3b0"/>
<ellipse cx="1899.1" cy="485.6" rx="3" ry="2.2" fill="#62b3b0"/>
<ellipse cx="1940.1" cy="485.6" rx="3" ry="2.2" fill="#62b3b0"/>
<ellipse cx="1981.1" cy="485.6" rx="3" ry="2.2" fill="#62b3b0"/>
<ellipse cx="2022.1" cy="485.6" rx="3.3" ry="2.5" fill="#62b3b0"/>
<ellipse cx="2063.1" cy="485.6" rx="5" ry="4.2" fill="#62b3b0"/>
<ellipse cx="1776.1" cy="535.6" rx="2.6" ry="2" fill="#a258a8"/>
<ellipse cx="1817.1" cy="535.6" rx="5.2" ry="4.6" fill="#a258a8"/>
<ellipse cx="1858.1" cy="535.6" rx="3.3" ry="2.4" fill="#a258a8"/>
<ellipse cx="1899.1" cy="535.6" rx="4.8" ry="4" fill="#a258a8"/>
<ellipse cx="1940.1" cy="535.6" rx="3.5" ry="2.4" fill="#a258a8"/>
<ellipse cx="1981.1" cy="535.6" rx="3.3" ry="2.6" fill="#a258a8"/>
<ellipse cx="2022.1" cy="535.6" rx="4" ry="3.3" fill="#a258a8"/>
<ellipse cx="2063.1" cy="535.6" rx="3.2" ry="2.4" fill="#a258a8"/>
<ellipse cx="1776.1" cy="584.2" rx="2.4" ry="2" fill="#6db87a"/>
<ellipse cx="1817.1" cy="584.2" rx="6.2" ry="5" fill="#6db87a"/>
<ellipse cx="1858.1" cy="584.2" rx="3.8" ry="3.1" fill="#6db87a"/>
<ellipse cx="1899.1" cy="584.2" rx="4" ry="3.4" fill="#6db87a"/>
<ellipse cx="1940.1" cy="584.2" rx="3.8" ry="3" fill="#6db87a"/>
<ellipse cx="1981.1" cy="584.2" rx="5.2" ry="4.2" fill="#6db87a"/>
<ellipse cx="2022.1" cy="584.2" rx="5.2" ry="4.2" fill="#6db87a"/>
<ellipse cx="2063.1" cy="584.2" rx="2.6" ry="2" fill="#6db87a"/>
<ellipse cx="1776.1" cy="634.2" rx="2.6" ry="2" fill="#e3503c"/>
<ellipse cx="1817.1" cy="634.2" rx="6" ry="4.8" fill="#e3503c"/>
<ellipse cx="1858.1" cy="634.2" rx="4.5" ry="3.8" fill="#e3503c"/>
<ellipse cx="1899.1" cy="634.2" rx="5.2" ry="4.5" fill="#e3503c"/>
<ellipse cx="1940.1" cy="634.2" rx="4" ry="3.3" fill="#e3503c"/>
<ellipse cx="1981.1" cy="634.2" rx="3.8" ry="3.1" fill="#e3503c"/>
<ellipse cx="2022.1" cy="634.2" rx="5.8" ry="4.8" fill="#e3503c"/>
<ellipse cx="2063.1" cy="634.2" rx="3.2" ry="2.4" fill="#e3503c"/>
<ellipse cx="1776.1" cy="683.4" rx="4.4" ry="3.6" fill="#8f8fcf"/>
<ellipse cx="1817.1" cy="683.4" rx="6.9" ry="5.5" fill="#8f8fcf"/>
<ellipse cx="1858.1" cy="683.4" rx="4.4" ry="3.6" fill="#8f8fcf"/>
<ellipse cx="1899.1" cy="683.4" rx="5.8" ry="4.8" fill="#8f8fcf"/>
<ellipse cx="1940.1" cy="683.4" rx="6.8" ry="5.5" fill="#8f8fcf"/>
<ellipse cx="1981.1" cy="683.4" rx="6" ry="4.8" fill="#8f8fcf"/>
<ellipse cx="2022.1" cy="683.4" rx="7" ry="5.5" fill="#8f8fcf"/>
<ellipse cx="2063.1" cy="683.4" rx="6" ry="5" fill="#8f8fcf"/>
<text transform="translate(1751,443.3)" font-size="13.5" text-anchor="end" fill="#111" font-weight="bold" stroke="#111" stroke-width="0.3" textLength="44.5" lengthAdjust="spacingAndGlyphs" >Amine</text>
<text transform="translate(1751,542.7)" font-size="13.5" text-anchor="end" fill="#111" font-weight="bold" stroke="#111" stroke-width="0.3" textLength="104.6" lengthAdjust="spacingAndGlyphs" >Carbohydrates</text>
<text transform="translate(1751,591.5)" font-size="13.5" text-anchor="end" fill="#111" font-weight="bold" stroke="#111" stroke-width="0.3" textLength="55.4" lengthAdjust="spacingAndGlyphs" >Alcohols</text>
<text transform="translate(1751,641.4)" font-size="13.5" text-anchor="end" fill="#111" font-weight="bold" stroke="#111" stroke-width="0.3" textLength="86" lengthAdjust="spacingAndGlyphs" >Amino acids</text>
<text transform="translate(1751,691.1)" font-size="13.5" text-anchor="end" fill="#111" font-weight="bold" stroke="#111" stroke-width="0.3" textLength="42" lengthAdjust="spacingAndGlyphs" >Esters</text>
<text transform="translate(1712.6,485.2)" font-size="13.5" text-anchor="middle" fill="#111" font-weight="bold" stroke="#111" stroke-width="0.3" textLength="76.1" lengthAdjust="spacingAndGlyphs" >Carboxylic</text>
<text transform="translate(1712.6,501.1)" font-size="13.5" text-anchor="middle" fill="#111" font-weight="bold" stroke="#111" stroke-width="0.3" textLength="34.5" lengthAdjust="spacingAndGlyphs" >acids</text>
<text transform="translate(1777.1,723) scale(1.16,1) rotate(-30)" font-size="14" text-anchor="end" fill="#111" font-weight="bold" stroke="#111" stroke-width="0.31" textLength="45.48" lengthAdjust="spacingAndGlyphs" >Control</text>
<text transform="translate(1818.1,723) scale(1.16,1) rotate(-30)" font-size="14" text-anchor="end" fill="#111" font-weight="bold" stroke="#111" stroke-width="0.31" textLength="28.7" lengthAdjust="spacingAndGlyphs" >Plant</text>
<text transform="translate(1860.1,723) scale(1.16,1) rotate(-30)" font-size="14" text-anchor="end" fill="#111" font-weight="bold" stroke="#111" stroke-width="0.31" textLength="30.98" lengthAdjust="spacingAndGlyphs" >P+PE</text>
<text transform="translate(1903.6,723) scale(1.16,1) rotate(-30)" font-size="14" text-anchor="end" fill="#111" font-weight="bold" stroke="#111" stroke-width="0.31" textLength="62.13" lengthAdjust="spacingAndGlyphs" >P+Aged PE</text>
<text transform="translate(1943.1,723) scale(1.16,1) rotate(-30)" font-size="14" text-anchor="end" fill="#111" font-weight="bold" stroke="#111" stroke-width="0.31" textLength="30.27" lengthAdjust="spacingAndGlyphs" >P+PP</text>
<text transform="translate(1985.1,723) scale(1.16,1) rotate(-30)" font-size="14" text-anchor="end" fill="#111" font-weight="bold" stroke="#111" stroke-width="0.31" textLength="61.42" lengthAdjust="spacingAndGlyphs" >P+Aged PP</text>
<text transform="translate(2025.1,723) scale(1.16,1) rotate(-30)" font-size="14" text-anchor="end" fill="#111" font-weight="bold" stroke="#111" stroke-width="0.31" textLength="47.55" lengthAdjust="spacingAndGlyphs" >P+PBAT</text>
<text transform="translate(2070.1,723) scale(1.16,1) rotate(-30)" font-size="14" text-anchor="end" fill="#111" font-weight="bold" stroke="#111" stroke-width="0.31" textLength="40.08" lengthAdjust="spacingAndGlyphs" >P+PLA</text>
<ellipse cx="2106.8" cy="441.9" rx="4" ry="3.5" fill="#8f8fcf"/>
<text transform="translate(2115.4,445.9)" font-size="12" text-anchor="start" fill="#111" font-weight="bold" stroke="#111" stroke-width="0.26" textLength="35.3" lengthAdjust="spacingAndGlyphs" >Esters</text>
<ellipse cx="2106.8" cy="459.32" rx="4" ry="3.5" fill="#e3503c"/>
<text transform="translate(2115.4,463.32)" font-size="12" text-anchor="start" fill="#111" font-weight="bold" stroke="#111" stroke-width="0.26" textLength="70.6" lengthAdjust="spacingAndGlyphs" >Amino acids</text>
<ellipse cx="2106.8" cy="476.74" rx="4" ry="3.5" fill="#6db87a"/>
<text transform="translate(2115.4,480.74)" font-size="12" text-anchor="start" fill="#111" font-weight="bold" stroke="#111" stroke-width="0.26" textLength="48.4" lengthAdjust="spacingAndGlyphs" >Alcohols</text>
<ellipse cx="2106.8" cy="494.16" rx="4" ry="3.5" fill="#a258a8"/>
<text transform="translate(2115.4,498.16)" font-size="12" text-anchor="start" fill="#111" font-weight="bold" stroke="#111" stroke-width="0.26" textLength="85.8" lengthAdjust="spacingAndGlyphs" >Carbohydrates</text>
<ellipse cx="2106.8" cy="511.58" rx="4" ry="3.5" fill="#62b3b0"/>
<text transform="translate(2115.4,515.58)" font-size="12" text-anchor="start" fill="#111" font-weight="bold" stroke="#111" stroke-width="0.26" textLength="93.6" lengthAdjust="spacingAndGlyphs" >Carboxylic acids</text>
<ellipse cx="2106.8" cy="529" rx="4" ry="3.5" fill="#5aaee0"/>
<text transform="translate(2115.4,533)" font-size="12" text-anchor="start" fill="#111" font-weight="bold" stroke="#111" stroke-width="0.26" textLength="37.4" lengthAdjust="spacingAndGlyphs" >Amine</text>
<text transform="translate(2105.5,632.8)" font-size="12" text-anchor="start" fill="#111" font-weight="bold" stroke="#111" stroke-width="0.26" textLength="39.2" lengthAdjust="spacingAndGlyphs" >AWCD</text>
<ellipse cx="2106.5" cy="645.9" rx="1" ry="1" fill="#8a8580"/>
<ellipse cx="2106.5" cy="661.9" rx="3.6" ry="2.8" fill="#8a8580"/>
<ellipse cx="2106.5" cy="678.9" rx="7" ry="5.5" fill="#8a8580"/>
<text transform="translate(2119.3,649.3)" font-size="12" text-anchor="start" fill="#111" font-weight="bold" stroke="#111" stroke-width="0.26" textLength="23" lengthAdjust="spacingAndGlyphs" >0.05</text>
<text transform="translate(2119.3,666.3)" font-size="12" text-anchor="start" fill="#111" font-weight="bold" stroke="#111" stroke-width="0.26" textLength="23" lengthAdjust="spacingAndGlyphs" >0.50</text>
<text transform="translate(2119.3,683.3)" font-size="12" text-anchor="start" fill="#111" font-weight="bold" stroke="#111" stroke-width="0.26" textLength="23" lengthAdjust="spacingAndGlyphs" >1.50</text>
<text transform="translate(1800.6,807.3)" font-size="34" text-anchor="start" fill="#0a0a0a" font-weight="bold" stroke="#0a0a0a" stroke-width="0.75" textLength="209.1" lengthAdjust="spacingAndGlyphs" >Microbial activity</text>
</svg>
</body></html>
